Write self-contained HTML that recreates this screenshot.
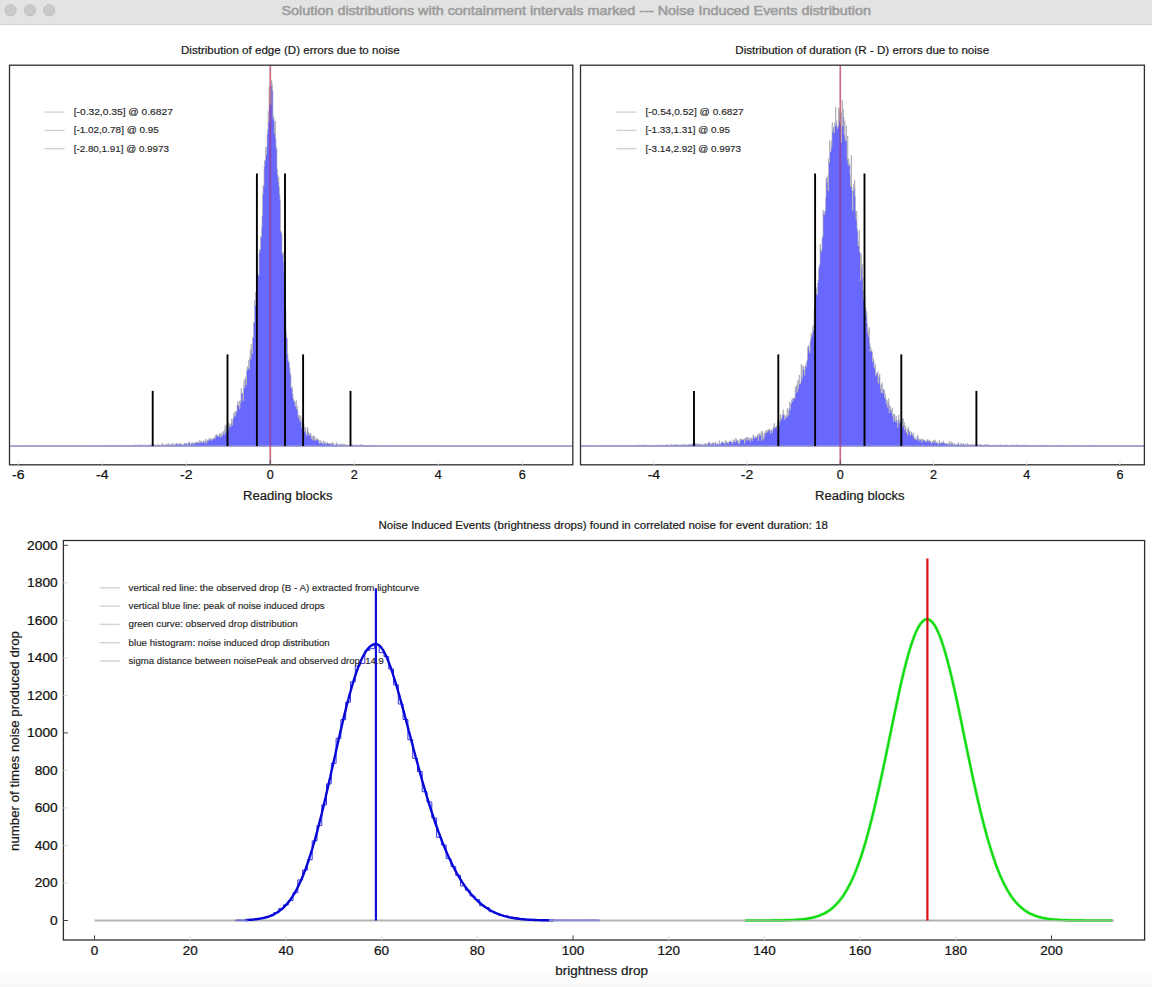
<!DOCTYPE html>
<html><head><meta charset="utf-8"><title>Solution distributions</title>
<style>
html,body{margin:0;padding:0;background:#fff;width:1152px;height:987px;overflow:hidden;}
svg text{font-family:"Liberation Sans", Arial, Helvetica, sans-serif;}
</style></head><body>
<svg width="1152" height="987" viewBox="0 0 1152 987" style="position:absolute;left:0;top:0">
<rect x="0" y="0" width="1152" height="987" fill="#ffffff"/>
<rect x="0" y="0" width="1152" height="24" fill="#e3e3e3"/>
<rect x="0" y="24" width="1152" height="1" fill="#d2d2d2"/>
<rect x="0" y="974" width="1152" height="13" fill="#fcfcfc"/>
<rect x="0" y="983" width="1152" height="4" fill="#f8f8f8"/>
<circle cx="10.6" cy="10.3" r="5.6" fill="#cacaca" stroke="#b9b9b9" stroke-width="0.8"/>
<circle cx="30" cy="10.3" r="5.6" fill="#cacaca" stroke="#b9b9b9" stroke-width="0.8"/>
<circle cx="49.2" cy="10.3" r="5.6" fill="#cacaca" stroke="#b9b9b9" stroke-width="0.8"/>
<text x="281.5" y="14.6" font-size="12.9" fill="#9c9c9c" stroke="#9c9c9c" stroke-width="0.55" textLength="589.5" lengthAdjust="spacingAndGlyphs">Solution distributions with containment intervals marked --- Noise Induced Events distribution</text>
<text x="181" y="54.3" font-size="11.6" fill="#1a1a1a" stroke="#1a1a1a" stroke-width="0.22" textLength="218.7" lengthAdjust="spacingAndGlyphs">Distribution of edge (D) errors due to noise</text>
<line x1="270.3" y1="65.2" x2="270.3" y2="464.8" stroke="#e0a0b0" stroke-width="1.2"/>
<path d="M10.5,446L10.5,446L11,446L11,445.9L11.5,445.9L11.5,445.9L12,445.9L12,446L12.5,446L12.5,446L13,446L13,446L13.5,446L13.5,445.9L14,445.9L14,446L14.5,446L14.5,445.9L15,445.9L15,446L15.5,446L15.5,445.9L16,445.9L16,446L16.5,446L16.5,445.9L17,445.9L17,446L17.5,446L17.5,446L18,446L18,445.9L18.5,445.9L18.5,445.9L19,445.9L19,446L19.5,446L19.5,446L20,446L20,445.9L20.5,445.9L20.5,446L21,446L21,446L21.5,446L21.5,446L22,446L22,446L22.5,446L22.5,446L23,446L23,446L23.5,446L23.5,446L24,446L24,446L24.5,446L24.5,446L25,446L25,446L25.5,446L25.5,445.9L26,445.9L26,446L26.5,446L26.5,446L27,446L27,445.9L27.5,445.9L27.5,445.9L28,445.9L28,446L28.5,446L28.5,445.9L29,445.9L29,445.9L29.5,445.9L29.5,446L30,446L30,446L30.5,446L30.5,445.9L31,445.9L31,446L31.5,446L31.5,445.9L32,445.9L32,446L32.5,446L32.5,446L33,446L33,446L33.5,446L33.5,446L34,446L34,446L34.5,446L34.5,445.9L35,445.9L35,446L35.5,446L35.5,445.8L36,445.8L36,445.9L36.5,445.9L36.5,445.9L37,445.9L37,445.9L37.5,445.9L37.5,445.9L38,445.9L38,446L38.5,446L38.5,445.9L39,445.9L39,445.9L39.5,445.9L39.5,446L40,446L40,445.9L40.5,445.9L40.5,446L41,446L41,445.9L41.5,445.9L41.5,446L42,446L42,446L42.5,446L42.5,445.9L43,445.9L43,446L43.5,446L43.5,445.9L44,445.9L44,446L44.5,446L44.5,445.9L45,445.9L45,446L45.5,446L45.5,445.8L46,445.8L46,445.9L46.5,445.9L46.5,446L47,446L47,445.9L47.5,445.9L47.5,445.8L48,445.8L48,445.8L48.5,445.8L48.5,446L49,446L49,445.9L49.5,445.9L49.5,445.9L50,445.9L50,446L50.5,446L50.5,446L51,446L51,445.8L51.5,445.8L51.5,446L52,446L52,445.9L52.5,445.9L52.5,445.8L53,445.8L53,446L53.5,446L53.5,446L54,446L54,446L54.5,446L54.5,445.9L55,445.9L55,445.8L55.5,445.8L55.5,445.7L56,445.7L56,446L56.5,446L56.5,446L57,446L57,445.9L57.5,445.9L57.5,445.7L58,445.7L58,445.9L58.5,445.9L58.5,446L59,446L59,445.9L59.5,445.9L59.5,445.9L60,445.9L60,446L60.5,446L60.5,446L61,446L61,445.9L61.5,445.9L61.5,445.9L62,445.9L62,446L62.5,446L62.5,446L63,446L63,446L63.5,446L63.5,446L64,446L64,445.8L64.5,445.8L64.5,446L65,446L65,446L65.5,446L65.5,445.7L66,445.7L66,445.9L66.5,445.9L66.5,445.6L67,445.6L67,445.9L67.5,445.9L67.5,446L68,446L68,446L68.5,446L68.5,445.7L69,445.7L69,445.5L69.5,445.5L69.5,446L70,446L70,446L70.5,446L70.5,445.8L71,445.8L71,446L71.5,446L71.5,446L72,446L72,446L72.5,446L72.5,445.9L73,445.9L73,445.7L73.5,445.7L73.5,445.9L74,445.9L74,445.8L74.5,445.8L74.5,446L75,446L75,445.9L75.5,445.9L75.5,446L76,446L76,446L76.5,446L76.5,445.8L77,445.8L77,446L77.5,446L77.5,445.8L78,445.8L78,445.8L78.5,445.8L78.5,445.7L79,445.7L79,445.8L79.5,445.8L79.5,445.7L80,445.7L80,445.9L80.5,445.9L80.5,446L81,446L81,446L81.5,446L81.5,446L82,446L82,446L82.5,446L82.5,446L83,446L83,445.9L83.5,445.9L83.5,445.8L84,445.8L84,446L84.5,446L84.5,446L85,446L85,445.9L85.5,445.9L85.5,445.8L86,445.8L86,445.7L86.5,445.7L86.5,445.8L87,445.8L87,446L87.5,446L87.5,446L88,446L88,445.5L88.5,445.5L88.5,445.7L89,445.7L89,445.5L89.5,445.5L89.5,445.5L90,445.5L90,446L90.5,446L90.5,445.8L91,445.8L91,445.8L91.5,445.8L91.5,445.8L92,445.8L92,445.8L92.5,445.8L92.5,445.8L93,445.8L93,445.8L93.5,445.8L93.5,446L94,446L94,445.9L94.5,445.9L94.5,446L95,446L95,445.8L95.5,445.8L95.5,445.9L96,445.9L96,445.7L96.5,445.7L96.5,445.7L97,445.7L97,445.8L97.5,445.8L97.5,445.8L98,445.8L98,445.8L98.5,445.8L98.5,445.9L99,445.9L99,445.9L99.5,445.9L99.5,445.9L100,445.9L100,445.7L100.5,445.7L100.5,445.8L101,445.8L101,445.7L101.5,445.7L101.5,446L102,446L102,445.6L102.5,445.6L102.5,446L103,446L103,446L103.5,446L103.5,445.9L104,445.9L104,445.9L104.5,445.9L104.5,445.7L105,445.7L105,445.9L105.5,445.9L105.5,446L106,446L106,446L106.5,446L106.5,445.5L107,445.5L107,445.8L107.5,445.8L107.5,446L108,446L108,445.8L108.5,445.8L108.5,446L109,446L109,445.3L109.5,445.3L109.5,446L110,446L110,445.6L110.5,445.6L110.5,445.6L111,445.6L111,446L111.5,446L111.5,445.7L112,445.7L112,445.5L112.5,445.5L112.5,445.6L113,445.6L113,445.7L113.5,445.7L113.5,445.5L114,445.5L114,445.7L114.5,445.7L114.5,445.6L115,445.6L115,445.8L115.5,445.8L115.5,445.6L116,445.6L116,446L116.5,446L116.5,445.5L117,445.5L117,445.9L117.5,445.9L117.5,446L118,446L118,445.6L118.5,445.6L118.5,445.2L119,445.2L119,445.4L119.5,445.4L119.5,445.9L120,445.9L120,445.5L120.5,445.5L120.5,445.8L121,445.8L121,445.7L121.5,445.7L121.5,445.7L122,445.7L122,446L122.5,446L122.5,445.6L123,445.6L123,446L123.5,446L123.5,445.9L124,445.9L124,446L124.5,446L124.5,446L125,446L125,446L125.5,446L125.5,445.4L126,445.4L126,445.1L126.5,445.1L126.5,445.7L127,445.7L127,445.3L127.5,445.3L127.5,445.7L128,445.7L128,446L128.5,446L128.5,445.6L129,445.6L129,445.5L129.5,445.5L129.5,445.8L130,445.8L130,445.5L130.5,445.5L130.5,445.4L131,445.4L131,445.9L131.5,445.9L131.5,446L132,446L132,445.7L132.5,445.7L132.5,445.7L133,445.7L133,445.7L133.5,445.7L133.5,445.2L134,445.2L134,444.9L134.5,444.9L134.5,445.7L135,445.7L135,445.3L135.5,445.3L135.5,445.2L136,445.2L136,445.3L136.5,445.3L136.5,445.1L137,445.1L137,445.7L137.5,445.7L137.5,445.2L138,445.2L138,444.7L138.5,444.7L138.5,445.2L139,445.2L139,445.7L139.5,445.7L139.5,445.2L140,445.2L140,445L140.5,445L140.5,445.3L141,445.3L141,445.7L141.5,445.7L141.5,444.8L142,444.8L142,446L142.5,446L142.5,445.2L143,445.2L143,445.4L143.5,445.4L143.5,445.9L144,445.9L144,444.9L144.5,444.9L144.5,445.3L145,445.3L145,445.9L145.5,445.9L145.5,445.1L146,445.1L146,445.6L146.5,445.6L146.5,446L147,446L147,445.7L147.5,445.7L147.5,445.2L148,445.2L148,445.1L148.5,445.1L148.5,445.3L149,445.3L149,445.3L149.5,445.3L149.5,445.1L150,445.1L150,445.4L150.5,445.4L150.5,444.8L151,444.8L151,445.2L151.5,445.2L151.5,445.1L152,445.1L152,445L152.5,445L152.5,445.8L153,445.8L153,445.6L153.5,445.6L153.5,444.5L154,444.5L154,445.1L154.5,445.1L154.5,445.4L155,445.4L155,445L155.5,445L155.5,445.4L156,445.4L156,445L156.5,445L156.5,445.5L157,445.5L157,445L157.5,445L157.5,445.9L158,445.9L158,444.4L158.5,444.4L158.5,445.4L159,445.4L159,445.9L159.5,445.9L159.5,445.2L160,445.2L160,445.3L160.5,445.3L160.5,445L161,445L161,445.7L161.5,445.7L161.5,444.8L162,444.8L162,443.1L162.5,443.1L162.5,445.7L163,445.7L163,444.8L163.5,444.8L163.5,445.2L164,445.2L164,444.9L164.5,444.9L164.5,446L165,446L165,445.6L165.5,445.6L165.5,444.7L166,444.7L166,444.9L166.5,444.9L166.5,443.9L167,443.9L167,445.3L167.5,445.3L167.5,444.8L168,444.8L168,443.1L168.5,443.1L168.5,445.3L169,445.3L169,445.4L169.5,445.4L169.5,444.8L170,444.8L170,444.8L170.5,444.8L170.5,444.2L171,444.2L171,444.7L171.5,444.7L171.5,445.2L172,445.2L172,444.6L172.5,444.6L172.5,443L173,443L173,443.8L173.5,443.8L173.5,446L174,446L174,444.7L174.5,444.7L174.5,445.2L175,445.2L175,444.2L175.5,444.2L175.5,444.7L176,444.7L176,443.2L176.5,443.2L176.5,443.9L177,443.9L177,443.9L177.5,443.9L177.5,444.3L178,444.3L178,444.5L178.5,444.5L178.5,444.2L179,444.2L179,443.5L179.5,443.5L179.5,444L180,444L180,444.6L180.5,444.6L180.5,443.4L181,443.4L181,444.1L181.5,444.1L181.5,444.3L182,444.3L182,444.8L182.5,444.8L182.5,444.6L183,444.6L183,444.6L183.5,444.6L183.5,446L184,446L184,443.3L184.5,443.3L184.5,443.6L185,443.6L185,444.2L185.5,444.2L185.5,443.1L186,443.1L186,443.6L186.5,443.6L186.5,443.6L187,443.6L187,445.8L187.5,445.8L187.5,444L188,444L188,443.3L188.5,443.3L188.5,442.4L189,442.4L189,442.1L189.5,442.1L189.5,442.4L190,442.4L190,444.6L190.5,444.6L190.5,445.4L191,445.4L191,443L191.5,443L191.5,443.4L192,443.4L192,442.5L192.5,442.5L192.5,443.4L193,443.4L193,443.1L193.5,443.1L193.5,444.6L194,444.6L194,442.7L194.5,442.7L194.5,443.5L195,443.5L195,442.7L195.5,442.7L195.5,442.5L196,442.5L196,443L196.5,443L196.5,442.5L197,442.5L197,442.7L197.5,442.7L197.5,441.9L198,441.9L198,442.1L198.5,442.1L198.5,443L199,443L199,443L199.5,443L199.5,440.5L200,440.5L200,442.3L200.5,442.3L200.5,441.1L201,441.1L201,441.6L201.5,441.6L201.5,442.6L202,442.6L202,442.7L202.5,442.7L202.5,441.6L203,441.6L203,441.3L203.5,441.3L203.5,440.8L204,440.8L204,442.9L204.5,442.9L204.5,442L205,442L205,441.3L205.5,441.3L205.5,439.1L206,439.1L206,443.8L206.5,443.8L206.5,440.2L207,440.2L207,441.3L207.5,441.3L207.5,439.9L208,439.9L208,441L208.5,441L208.5,439.7L209,439.7L209,437.9L209.5,437.9L209.5,439.4L210,439.4L210,439.1L210.5,439.1L210.5,439L211,439L211,440.4L211.5,440.4L211.5,438.4L212,438.4L212,439.3L212.5,439.3L212.5,440L213,440L213,438.6L213.5,438.6L213.5,438.7L214,438.7L214,436.9L214.5,436.9L214.5,437.9L215,437.9L215,438.4L215.5,438.4L215.5,435L216,435L216,435.4L216.5,435.4L216.5,434.6L217,434.6L217,435.4L217.5,435.4L217.5,436.3L218,436.3L218,436.6L218.5,436.6L218.5,436L219,436L219,433.4L219.5,433.4L219.5,434.6L220,434.6L220,437.2L220.5,437.2L220.5,434.1L221,434.1L221,436.4L221.5,436.4L221.5,432.9L222,432.9L222,435.2L222.5,435.2L222.5,434.9L223,434.9L223,431.7L223.5,431.7L223.5,431.6L224,431.6L224,434.5L224.5,434.5L224.5,428.8L225,428.8L225,425.2L225.5,425.2L225.5,432.7L226,432.7L226,424.7L226.5,424.7L226.5,429.9L227,429.9L227,428.9L227.5,428.9L227.5,427.6L228,427.6L228,430L228.5,430L228.5,422.7L229,422.7L229,424L229.5,424L229.5,426.4L230,426.4L230,424.5L230.5,424.5L230.5,427L231,427L231,423.1L231.5,423.1L231.5,418.8L232,418.8L232,425.2L232.5,425.2L232.5,420.8L233,420.8L233,418.1L233.5,418.1L233.5,414.3L234,414.3L234,412.2L234.5,412.2L234.5,416.4L235,416.4L235,416.1L235.5,416.1L235.5,411L236,411L236,412.3L236.5,412.3L236.5,410.9L237,410.9L237,405L237.5,405L237.5,401.5L238,401.5L238,405.1L238.5,405.1L238.5,405.4L239,405.4L239,401.3L239.5,401.3L239.5,408.8L240,408.8L240,400.5L240.5,400.5L240.5,402.9L241,402.9L241,388.2L241.5,388.2L241.5,392.9L242,392.9L242,393.4L242.5,393.4L242.5,393L243,393L243,400.8L243.5,400.8L243.5,385.6L244,385.6L244,379.7L244.5,379.7L244.5,387.7L245,387.7L245,379.5L245.5,379.5L245.5,377L246,377L246,384.9L246.5,384.9L246.5,371.1L247,371.1L247,366.5L247.5,366.5L247.5,369.1L248,369.1L248,367.7L248.5,367.7L248.5,360.6L249,360.6L249,369.3L249.5,369.3L249.5,358L250,358L250,350.1L250.5,350.1L250.5,359.2L251,359.2L251,344.2L251.5,344.2L251.5,348.4L252,348.4L252,353.9L252.5,353.9L252.5,338.1L253,338.1L253,336.9L253.5,336.9L253.5,321.8L254,321.8L254,323L254.5,323L254.5,300.8L255,300.8L255,305.5L255.5,305.5L255.5,292.5L256,292.5L256,293.8L256.5,293.8L256.5,287.2L257,287.2L257,272.1L257.5,272.1L257.5,274.5L258,274.5L258,274.4L258.5,274.4L258.5,275.9L259,275.9L259,252.7L259.5,252.7L259.5,249.5L260,249.5L260,250.1L260.5,250.1L260.5,236.6L261,236.6L261,237.2L261.5,237.2L261.5,227.5L262,227.5L262,215.7L262.5,215.7L262.5,194.8L263,194.8L263,185.3L263.5,185.3L263.5,186.5L264,186.5L264,166.5L264.5,166.5L264.5,160.3L265,160.3L265,160.7L265.5,160.7L265.5,147.5L266,147.5L266,154.6L266.5,154.6L266.5,146.9L267,146.9L267,134.1L267.5,134.1L267.5,129.8L268,129.8L268,111.1L268.5,111.1L268.5,121.5L269,121.5L269,86.1L269.5,86.1L269.5,102.9L270,102.9L270,92.1L270.5,92.1L270.5,104.7L271,104.7L271,85.5L271.5,85.5L271.5,80.6L272,80.6L272,85.2L272.5,85.2L272.5,90.6L273,90.6L273,118.6L273.5,118.6L273.5,116.6L274,116.6L274,120.8L274.5,120.8L274.5,133.6L275,133.6L275,121.7L275.5,121.7L275.5,138.5L276,138.5L276,147.3L276.5,147.3L276.5,149L277,149L277,168.9L277.5,168.9L277.5,175L278,175L278,181.6L278.5,181.6L278.5,176.8L279,176.8L279,186.9L279.5,186.9L279.5,194.8L280,194.8L280,200.8L280.5,200.8L280.5,230.6L281,230.6L281,232.2L281.5,232.2L281.5,233.8L282,233.8L282,252.9L282.5,252.9L282.5,254.5L283,254.5L283,252L283.5,252L283.5,261.9L284,261.9L284,273.3L284.5,273.3L284.5,291.9L285,291.9L285,304.9L285.5,304.9L285.5,309.8L286,309.8L286,331.5L286.5,331.5L286.5,337.3L287,337.3L287,338.9L287.5,338.9L287.5,353.7L288,353.7L288,359.8L288.5,359.8L288.5,361.5L289,361.5L289,362.9L289.5,362.9L289.5,367.7L290,367.7L290,373.2L290.5,373.2L290.5,375L291,375L291,388.1L291.5,388.1L291.5,388L292,388L292,386.6L292.5,386.6L292.5,394L293,394L293,398.3L293.5,398.3L293.5,400.2L294,400.2L294,401.4L294.5,401.4L294.5,400.9L295,400.9L295,406.2L295.5,406.2L295.5,403.7L296,403.7L296,400.7L296.5,400.7L296.5,408.9L297,408.9L297,406L297.5,406L297.5,410.9L298,410.9L298,416.9L298.5,416.9L298.5,415.6L299,415.6L299,419.1L299.5,419.1L299.5,415.2L300,415.2L300,422L300.5,422L300.5,416.2L301,416.2L301,419.4L301.5,419.4L301.5,427.5L302,427.5L302,421L302.5,421L302.5,420.1L303,420.1L303,427L303.5,427L303.5,423.5L304,423.5L304,431.1L304.5,431.1L304.5,427L305,427L305,432.2L305.5,432.2L305.5,428.1L306,428.1L306,433.9L306.5,433.9L306.5,436.3L307,436.3L307,430.6L307.5,430.6L307.5,427.4L308,427.4L308,434L308.5,434L308.5,431.9L309,431.9L309,433.9L309.5,433.9L309.5,435.4L310,435.4L310,434.2L310.5,434.2L310.5,433L311,433L311,438.5L311.5,438.5L311.5,436L312,436L312,436.9L312.5,436.9L312.5,440.1L313,440.1L313,435.8L313.5,435.8L313.5,435.7L314,435.7L314,440.4L314.5,440.4L314.5,436.8L315,436.8L315,439.5L315.5,439.5L315.5,440.1L316,440.1L316,438.1L316.5,438.1L316.5,440.1L317,440.1L317,440.2L317.5,440.2L317.5,438.9L318,438.9L318,439.4L318.5,439.4L318.5,440.1L319,440.1L319,443L319.5,443L319.5,443.3L320,443.3L320,440.4L320.5,440.4L320.5,442.9L321,442.9L321,441.8L321.5,441.8L321.5,443.3L322,443.3L322,442.4L322.5,442.4L322.5,443.7L323,443.7L323,440.8L323.5,440.8L323.5,443.6L324,443.6L324,442.8L324.5,442.8L324.5,443L325,443L325,441.8L325.5,441.8L325.5,444.4L326,444.4L326,443.1L326.5,443.1L326.5,443.4L327,443.4L327,442.8L327.5,442.8L327.5,442.9L328,442.9L328,443.9L328.5,443.9L328.5,443.3L329,443.3L329,443.9L329.5,443.9L329.5,443.3L330,443.3L330,443.8L330.5,443.8L330.5,444.3L331,444.3L331,443.9L331.5,443.9L331.5,443.6L332,443.6L332,442.2L332.5,442.2L332.5,444.4L333,444.4L333,443.9L333.5,443.9L333.5,443.1L334,443.1L334,445.7L334.5,445.7L334.5,445.5L335,445.5L335,445.2L335.5,445.2L335.5,444.4L336,444.4L336,442.7L336.5,442.7L336.5,444.2L337,444.2L337,443.7L337.5,443.7L337.5,444.7L338,444.7L338,446L338.5,446L338.5,446L339,446L339,444L339.5,444L339.5,444.6L340,444.6L340,445.5L340.5,445.5L340.5,444.1L341,444.1L341,445.7L341.5,445.7L341.5,444.1L342,444.1L342,444L342.5,444L342.5,445.3L343,445.3L343,445.5L343.5,445.5L343.5,444.5L344,444.5L344,445.6L344.5,445.6L344.5,444.5L345,444.5L345,445.7L345.5,445.7L345.5,444.6L346,444.6L346,445L346.5,445L346.5,445.3L347,445.3L347,445.6L347.5,445.6L347.5,445L348,445L348,446L348.5,446L348.5,445.3L349,445.3L349,445.4L349.5,445.4L349.5,444.9L350,444.9L350,445.8L350.5,445.8L350.5,444.4L351,444.4L351,445.4L351.5,445.4L351.5,445.8L352,445.8L352,444.7L352.5,444.7L352.5,444.6L353,444.6L353,445.4L353.5,445.4L353.5,445.7L354,445.7L354,445.4L354.5,445.4L354.5,445.7L355,445.7L355,445.5L355.5,445.5L355.5,444.8L356,444.8L356,445.3L356.5,445.3L356.5,445.4L357,445.4L357,445.3L357.5,445.3L357.5,445.5L358,445.5L358,445.1L358.5,445.1L358.5,445.1L359,445.1L359,445.6L359.5,445.6L359.5,445.5L360,445.5L360,444.6L360.5,444.6L360.5,445.4L361,445.4L361,445.6L361.5,445.6L361.5,444.8L362,444.8L362,445.6L362.5,445.6L362.5,446L363,446L363,445.3L363.5,445.3L363.5,445.9L364,445.9L364,445.8L364.5,445.8L364.5,445.5L365,445.5L365,445.7L365.5,445.7L365.5,445.9L366,445.9L366,445.8L366.5,445.8L366.5,445.8L367,445.8L367,445.3L367.5,445.3L367.5,445.9L368,445.9L368,445.9L368.5,445.9L368.5,445L369,445L369,445.9L369.5,445.9L369.5,445.2L370,445.2L370,445.3L370.5,445.3L370.5,445.7L371,445.7L371,446L371.5,446L371.5,445.6L372,445.6L372,445.5L372.5,445.5L372.5,445.4L373,445.4L373,445.7L373.5,445.7L373.5,445.4L374,445.4L374,445.4L374.5,445.4L374.5,446L375,446L375,445.4L375.5,445.4L375.5,445.7L376,445.7L376,445.9L376.5,445.9L376.5,445.9L377,445.9L377,445.3L377.5,445.3L377.5,445.5L378,445.5L378,446L378.5,446L378.5,445.8L379,445.8L379,445.8L379.5,445.8L379.5,445.8L380,445.8L380,445.9L380.5,445.9L380.5,446L381,446L381,445.6L381.5,445.6L381.5,446L382,446L382,445.9L382.5,445.9L382.5,446L383,446L383,446L383.5,446L383.5,445.7L384,445.7L384,445.7L384.5,445.7L384.5,446L385,446L385,446L385.5,446L385.5,445.9L386,445.9L386,445.6L386.5,445.6L386.5,445.8L387,445.8L387,445.8L387.5,445.8L387.5,445.9L388,445.9L388,445.9L388.5,445.9L388.5,445.8L389,445.8L389,446L389.5,446L389.5,445.5L390,445.5L390,446L390.5,446L390.5,446L391,446L391,445.6L391.5,445.6L391.5,445.8L392,445.8L392,445.9L392.5,445.9L392.5,446L393,446L393,446L393.5,446L393.5,445.9L394,445.9L394,445.7L394.5,445.7L394.5,446L395,446L395,445.7L395.5,445.7L395.5,446L396,446L396,446L396.5,446L396.5,445.8L397,445.8L397,445.9L397.5,445.9L397.5,445.8L398,445.8L398,446L398.5,446L398.5,446L399,446L399,446L399.5,446L399.5,446L400,446L400,446L400.5,446L400.5,446L401,446L401,445.9L401.5,445.9L401.5,446L402,446L402,446L402.5,446L402.5,445.6L403,445.6L403,446L403.5,446L403.5,446L404,446L404,445.8L404.5,445.8L404.5,445.8L405,445.8L405,446L405.5,446L405.5,446L406,446L406,446L406.5,446L406.5,445.8L407,445.8L407,446L407.5,446L407.5,446L408,446L408,445.9L408.5,445.9L408.5,445.8L409,445.8L409,446L409.5,446L409.5,446L410,446L410,446L410.5,446L410.5,445.7L411,445.7L411,445.7L411.5,445.7L411.5,445.8L412,445.8L412,446L412.5,446L412.5,445.9L413,445.9L413,446L413.5,446L413.5,445.9L414,445.9L414,446L414.5,446L414.5,446L415,446L415,446L415.5,446L415.5,446L416,446L416,445.9L416.5,445.9L416.5,445.9L417,445.9L417,445.9L417.5,445.9L417.5,446L418,446L418,445.9L418.5,445.9L418.5,446L419,446L419,445.8L419.5,445.8L419.5,446L420,446L420,446L420.5,446L420.5,446L421,446L421,445.8L421.5,445.8L421.5,445.9L422,445.9L422,446L422.5,446L422.5,445.9L423,445.9L423,445.9L423.5,445.9L423.5,445.9L424,445.9L424,446L424.5,446L424.5,446L425,446L425,446L425.5,446L425.5,446L426,446L426,446L426.5,446L426.5,446L427,446L427,445.9L427.5,445.9L427.5,445.9L428,445.9L428,445.9L428.5,445.9L428.5,445.9L429,445.9L429,445.8L429.5,445.8L429.5,446L430,446L430,445.9L430.5,445.9L430.5,445.8L431,445.8L431,446L431.5,446L431.5,446L432,446L432,445.9L432.5,445.9L432.5,445.8L433,445.8L433,446L433.5,446L433.5,446L434,446L434,446L434.5,446L434.5,446L435,446L435,445.9L435.5,445.9L435.5,446L436,446L436,446L436.5,446L436.5,446L437,446L437,446L437.5,446L437.5,446L438,446L438,446L438.5,446L438.5,446L439,446L439,445.9L439.5,445.9L439.5,446L440,446L440,446L440.5,446L440.5,445.9L441,445.9L441,445.9L441.5,445.9L441.5,445.9L442,445.9L442,446L442.5,446L442.5,446L443,446L443,446L443.5,446L443.5,445.9L444,445.9L444,446L444.5,446L444.5,446L445,446L445,446L445.5,446L445.5,446L446,446L446,446L446.5,446L446.5,445.9L447,445.9L447,446L447.5,446L447.5,446L448,446L448,446L448.5,446L448.5,446L449,446L449,446L449.5,446L449.5,446L450,446L450,445.9L450.5,445.9L450.5,446L451,446L451,446L451.5,446L451.5,446L452,446L452,446L452.5,446L452.5,446L453,446L453,446L453.5,446L453.5,446L454,446L454,445.9L454.5,445.9L454.5,446L455,446L455,446L455.5,446L455.5,445.9L456,445.9L456,446L456.5,446L456.5,446L457,446L457,446L457.5,446L457.5,446L458,446L458,445.9L458.5,445.9L458.5,445.9L459,445.9L459,446L459.5,446L459.5,445.9L460,445.9L460,445.9L460.5,445.9L460.5,446L461,446L461,446L461.5,446L461.5,445.9L462,445.9L462,446L462.5,446L462.5,446L463,446L463,446L463.5,446L463.5,446L464,446L464,446L464.5,446L464.5,446L465,446L465,446L465.5,446L465.5,446L466,446L466,446L466.5,446L466.5,445.9L467,445.9L467,446L467.5,446L467.5,446L468,446L468,446L468.5,446L468.5,446L469,446L469,446L469.5,446L469.5,446L470,446L470,446L470.5,446L470.5,446L471,446L471,446L471.5,446L471.5,446L472,446L472,446L472.5,446L472.5,446L473,446L473,446L473.5,446L473.5,446L474,446L474,446L474.5,446L474.5,446L475,446L475,446L475.5,446L475.5,446L476,446L476,446L476.5,446L476.5,446L477,446L477,446L477.5,446L477.5,446L478,446L478,446L478.5,446L478.5,446L479,446L479,446L479.5,446L479.5,446L480,446L480,446L480.5,446L480.5,446L481,446L481,446L481.5,446L481.5,446L482,446L482,446L482.5,446L482.5,446L483,446L483,446L483.5,446L483.5,446L484,446L484,446L484.5,446L484.5,446L485,446L485,446L485.5,446L485.5,446L486,446L486,446L486.5,446L486.5,446L487,446L487,446L487.5,446L487.5,446L488,446L488,446L488.5,446L488.5,446L489,446L489,446L489.5,446L489.5,446L490,446L490,446L490.5,446L490.5,446L491,446L491,446L491.5,446L491.5,446L492,446L492,446L492.5,446L492.5,446L493,446L493,446L493.5,446L493.5,446L494,446L494,446L494.5,446L494.5,446L495,446L495,446L495.5,446L495.5,446L496,446L496,446L496.5,446L496.5,446L497,446L497,446L497.5,446L497.5,446L498,446L498,446L498.5,446L498.5,446L499,446L499,446L499.5,446L499.5,446L500,446L500,446L500.5,446L500.5,446L501,446L501,446L501.5,446L501.5,446L502,446L502,446L502.5,446L502.5,446L503,446L503,446L503.5,446L503.5,446L504,446L504,446L504.5,446L504.5,446L505,446L505,446L505.5,446L505.5,446L506,446L506,446L506.5,446L506.5,446L507,446L507,446L507.5,446L507.5,446L508,446L508,446L508.5,446L508.5,446L509,446L509,446L509.5,446L509.5,446L510,446L510,446L510.5,446L510.5,446L511,446L511,446L511.5,446L511.5,446L512,446L512,446L512.5,446L512.5,446L513,446L513,446L513.5,446L513.5,446L514,446L514,446L514.5,446L514.5,446L515,446L515,446L515.5,446L515.5,446L516,446L516,446L516.5,446L516.5,446L517,446L517,446L517.5,446L517.5,446L518,446L518,446L518.5,446L518.5,446L519,446L519,446L519.5,446L519.5,446L520,446L520,446L520.5,446L520.5,446L521,446L521,446L521.5,446L521.5,446L522,446L522,446L522.5,446L522.5,446L523,446L523,446L523.5,446L523.5,446L524,446L524,446L524.5,446L524.5,446L525,446L525,446L525.5,446L525.5,446L526,446L526,446L526.5,446L526.5,446L527,446L527,446L527.5,446L527.5,446L528,446L528,446L528.5,446L528.5,446L529,446L529,446L529.5,446L529.5,446L530,446L530,446L530.5,446L530.5,446L531,446L531,446L531.5,446L531.5,446L532,446L532,446L532.5,446L532.5,446L533,446L533,446L533.5,446L533.5,446L534,446L534,446L534.5,446L534.5,446L535,446L535,446L535.5,446L535.5,446L536,446L536,446L536.5,446L536.5,446L537,446L537,446L537.5,446L537.5,446L538,446L538,446L538.5,446L538.5,446L539,446L539,446L539.5,446L539.5,446L540,446L540,446L540.5,446L540.5,446L541,446L541,446L541.5,446L541.5,446L542,446L542,446L542.5,446L542.5,446L543,446L543,446L543.5,446L543.5,446L544,446L544,446L544.5,446L544.5,446L545,446L545,446L545.5,446L545.5,446L546,446L546,446L546.5,446L546.5,446L547,446L547,446L547.5,446L547.5,446L548,446L548,446L548.5,446L548.5,446L549,446L549,446L549.5,446L549.5,446L550,446L550,446L550.5,446L550.5,446L551,446L551,446L551.5,446L551.5,446L552,446L552,446L552.5,446L552.5,446L553,446L553,446L553.5,446L553.5,446L554,446L554,446L554.5,446L554.5,446L555,446L555,446L555.5,446L555.5,446L556,446L556,446L556.5,446L556.5,446L557,446L557,446L557.5,446L557.5,446L558,446L558,446L558.5,446L558.5,446L559,446L559,446L559.5,446L559.5,446L560,446L560,446L560.5,446L560.5,446L561,446L561,446L561.5,446L561.5,446L562,446L562,446L562.5,446L562.5,446L563,446L563,446L563.5,446L563.5,446L564,446L564,446L564.5,446L564.5,446L565,446L565,446L565.5,446L565.5,446L566,446L566,446L566.5,446L566.5,446L567,446L567,446L567.5,446L567.5,446L568,446L568,446L568.5,446L568.5,446L569,446L569,446L569.5,446L569.5,446L570,446L570,446L570.5,446L570.5,446L571,446L571,446L571.5,446L571.5,446L572,446L572,446L572.5,446L572.5,446Z" fill="#6868ff" stroke="#b4b4b4" stroke-width="0.7"/>
<line x1="9.5" y1="446" x2="572.8" y2="446" stroke="#8c8cd2" stroke-width="1.25"/>
<line x1="270.3" y1="65.2" x2="270.3" y2="464.8" stroke="#b02040" stroke-width="1.8" stroke-opacity="0.45"/>
<line x1="256.9" y1="173.4" x2="256.9" y2="446" stroke="#000" stroke-width="1.9"/>
<line x1="285" y1="173.4" x2="285" y2="446" stroke="#000" stroke-width="1.9"/>
<line x1="227.5" y1="354.4" x2="227.5" y2="446" stroke="#000" stroke-width="1.9"/>
<line x1="303.1" y1="354.4" x2="303.1" y2="446" stroke="#000" stroke-width="1.9"/>
<line x1="152.7" y1="390.9" x2="152.7" y2="446" stroke="#000" stroke-width="1.9"/>
<line x1="350.5" y1="390.9" x2="350.5" y2="446" stroke="#000" stroke-width="1.9"/>
<line x1="44.7" y1="112.1" x2="64.7" y2="112.1" stroke="#d2d2d2" stroke-width="1.4"/>
<text x="73.7" y="115" font-size="9.6" fill="#262626" stroke="#262626" stroke-width="0.15" textLength="99.2" lengthAdjust="spacingAndGlyphs">[-0.32,0.35] @ 0.6827</text>
<line x1="44.7" y1="130.4" x2="64.7" y2="130.4" stroke="#d2d2d2" stroke-width="1.4"/>
<text x="73.7" y="133.3" font-size="9.6" fill="#262626" stroke="#262626" stroke-width="0.15" textLength="85.1" lengthAdjust="spacingAndGlyphs">[-1.02,0.78] @ 0.95</text>
<line x1="44.7" y1="148.7" x2="64.7" y2="148.7" stroke="#d2d2d2" stroke-width="1.4"/>
<text x="73.7" y="151.6" font-size="9.6" fill="#262626" stroke="#262626" stroke-width="0.15" textLength="95.3" lengthAdjust="spacingAndGlyphs">[-2.80,1.91] @ 0.9973</text>
<rect x="9.5" y="65.2" width="563.3" height="399.6" fill="none" stroke="#2e2e2e" stroke-width="1.3"/>
<line x1="18.3" y1="460.2" x2="18.3" y2="464.8" stroke="#e6e6e6" stroke-width="1"/>
<text x="18.3" y="478.8" font-size="12.2" fill="#111" stroke="#111" stroke-width="0.22" text-anchor="middle" textLength="12.5" lengthAdjust="spacingAndGlyphs">-6</text>
<line x1="102.3" y1="460.2" x2="102.3" y2="464.8" stroke="#e6e6e6" stroke-width="1"/>
<text x="102.3" y="478.8" font-size="12.2" fill="#111" stroke="#111" stroke-width="0.22" text-anchor="middle" textLength="12.5" lengthAdjust="spacingAndGlyphs">-4</text>
<line x1="186.3" y1="460.2" x2="186.3" y2="464.8" stroke="#e6e6e6" stroke-width="1"/>
<text x="186.3" y="478.8" font-size="12.2" fill="#111" stroke="#111" stroke-width="0.22" text-anchor="middle" textLength="12.5" lengthAdjust="spacingAndGlyphs">-2</text>
<line x1="270.3" y1="460.2" x2="270.3" y2="464.8" stroke="#555" stroke-width="1"/>
<text x="270.3" y="478.8" font-size="12.2" fill="#111" stroke="#111" stroke-width="0.22" text-anchor="middle" textLength="7" lengthAdjust="spacingAndGlyphs">0</text>
<line x1="354.3" y1="460.2" x2="354.3" y2="464.8" stroke="#e6e6e6" stroke-width="1"/>
<text x="354.3" y="478.8" font-size="12.2" fill="#111" stroke="#111" stroke-width="0.22" text-anchor="middle" textLength="7" lengthAdjust="spacingAndGlyphs">2</text>
<line x1="438.3" y1="460.2" x2="438.3" y2="464.8" stroke="#e6e6e6" stroke-width="1"/>
<text x="438.3" y="478.8" font-size="12.2" fill="#111" stroke="#111" stroke-width="0.22" text-anchor="middle" textLength="7" lengthAdjust="spacingAndGlyphs">4</text>
<line x1="522.3" y1="460.2" x2="522.3" y2="464.8" stroke="#e6e6e6" stroke-width="1"/>
<text x="522.3" y="478.8" font-size="12.2" fill="#111" stroke="#111" stroke-width="0.22" text-anchor="middle" textLength="7" lengthAdjust="spacingAndGlyphs">6</text>
<text x="243" y="500" font-size="12" fill="#1a1a1a" stroke="#1a1a1a" stroke-width="0.22" textLength="89.5" lengthAdjust="spacingAndGlyphs">Reading blocks</text>
<text x="735.3" y="54.3" font-size="11.6" fill="#1a1a1a" stroke="#1a1a1a" stroke-width="0.22" textLength="253.8" lengthAdjust="spacingAndGlyphs">Distribution of duration (R - D) errors due to noise</text>
<line x1="840.3" y1="65.2" x2="840.3" y2="464.8" stroke="#e0a0b0" stroke-width="1.2"/>
<path d="M581.5,446L581.5,445.8L582,445.8L582,445.6L582.5,445.6L582.5,445.7L583,445.7L583,445.7L583.5,445.7L583.5,445.4L584,445.4L584,446L584.5,446L584.5,446L585,446L585,446L585.5,446L585.5,445.9L586,445.9L586,445.6L586.5,445.6L586.5,445.8L587,445.8L587,445.7L587.5,445.7L587.5,446L588,446L588,445.8L588.5,445.8L588.5,446L589,446L589,445.4L589.5,445.4L589.5,445.6L590,445.6L590,445.6L590.5,445.6L590.5,445.8L591,445.8L591,445.7L591.5,445.7L591.5,445.6L592,445.6L592,445.9L592.5,445.9L592.5,445.9L593,445.9L593,445.8L593.5,445.8L593.5,446L594,446L594,446L594.5,446L594.5,445.9L595,445.9L595,446L595.5,446L595.5,445.6L596,445.6L596,446L596.5,446L596.5,445.6L597,445.6L597,446L597.5,446L597.5,445.9L598,445.9L598,446L598.5,446L598.5,445.8L599,445.8L599,445.9L599.5,445.9L599.5,445.7L600,445.7L600,445.9L600.5,445.9L600.5,445.8L601,445.8L601,445.3L601.5,445.3L601.5,445.7L602,445.7L602,445.9L602.5,445.9L602.5,445.5L603,445.5L603,445.8L603.5,445.8L603.5,445.6L604,445.6L604,445.6L604.5,445.6L604.5,445.9L605,445.9L605,446L605.5,446L605.5,445.9L606,445.9L606,445.6L606.5,445.6L606.5,445.9L607,445.9L607,445.6L607.5,445.6L607.5,445.5L608,445.5L608,445.9L608.5,445.9L608.5,445.4L609,445.4L609,445.3L609.5,445.3L609.5,445.4L610,445.4L610,445.4L610.5,445.4L610.5,445.4L611,445.4L611,445.1L611.5,445.1L611.5,445.7L612,445.7L612,445.7L612.5,445.7L612.5,445.6L613,445.6L613,446L613.5,446L613.5,446L614,446L614,446L614.5,446L614.5,445.6L615,445.6L615,445.6L615.5,445.6L615.5,446L616,446L616,446L616.5,446L616.5,445.8L617,445.8L617,445.8L617.5,445.8L617.5,445.7L618,445.7L618,445.5L618.5,445.5L618.5,445.3L619,445.3L619,445.6L619.5,445.6L619.5,445.5L620,445.5L620,446L620.5,446L620.5,446L621,446L621,445.6L621.5,445.6L621.5,445.5L622,445.5L622,445.5L622.5,445.5L622.5,445.5L623,445.5L623,445.4L623.5,445.4L623.5,445.4L624,445.4L624,446L624.5,446L624.5,445.9L625,445.9L625,445.5L625.5,445.5L625.5,445.5L626,445.5L626,446L626.5,446L626.5,445.3L627,445.3L627,445.8L627.5,445.8L627.5,445.8L628,445.8L628,445.6L628.5,445.6L628.5,445.4L629,445.4L629,446L629.5,446L629.5,445.3L630,445.3L630,445.6L630.5,445.6L630.5,445.9L631,445.9L631,445.8L631.5,445.8L631.5,446L632,446L632,445.9L632.5,445.9L632.5,445.6L633,445.6L633,445.9L633.5,445.9L633.5,445.8L634,445.8L634,445.7L634.5,445.7L634.5,445.6L635,445.6L635,445.3L635.5,445.3L635.5,445.6L636,445.6L636,445.7L636.5,445.7L636.5,445.4L637,445.4L637,444.9L637.5,444.9L637.5,445.7L638,445.7L638,445.4L638.5,445.4L638.5,446L639,446L639,445.1L639.5,445.1L639.5,445.4L640,445.4L640,445.1L640.5,445.1L640.5,445.6L641,445.6L641,446L641.5,446L641.5,445.3L642,445.3L642,445.3L642.5,445.3L642.5,445.9L643,445.9L643,446L643.5,446L643.5,445.4L644,445.4L644,445.6L644.5,445.6L644.5,444.5L645,444.5L645,445.8L645.5,445.8L645.5,445.8L646,445.8L646,445.6L646.5,445.6L646.5,446L647,446L647,445.9L647.5,445.9L647.5,444.9L648,444.9L648,445.6L648.5,445.6L648.5,445.8L649,445.8L649,446L649.5,446L649.5,445.3L650,445.3L650,445.3L650.5,445.3L650.5,445.4L651,445.4L651,445.7L651.5,445.7L651.5,445.4L652,445.4L652,445.3L652.5,445.3L652.5,445.8L653,445.8L653,445.2L653.5,445.2L653.5,446L654,446L654,446L654.5,446L654.5,445.6L655,445.6L655,445.5L655.5,445.5L655.5,446L656,446L656,445.3L656.5,445.3L656.5,445L657,445L657,445.3L657.5,445.3L657.5,445.4L658,445.4L658,445.1L658.5,445.1L658.5,445.3L659,445.3L659,446L659.5,446L659.5,445.5L660,445.5L660,444.8L660.5,444.8L660.5,445.9L661,445.9L661,445.4L661.5,445.4L661.5,445.6L662,445.6L662,445.8L662.5,445.8L662.5,445.9L663,445.9L663,445.3L663.5,445.3L663.5,445.2L664,445.2L664,445.2L664.5,445.2L664.5,446L665,446L665,445.5L665.5,445.5L665.5,445.2L666,445.2L666,444.9L666.5,444.9L666.5,445L667,445L667,444.9L667.5,444.9L667.5,444.8L668,444.8L668,444.9L668.5,444.9L668.5,445.7L669,445.7L669,445.3L669.5,445.3L669.5,445.7L670,445.7L670,446L670.5,446L670.5,446L671,446L671,444.2L671.5,444.2L671.5,445.8L672,445.8L672,446L672.5,446L672.5,445.6L673,445.6L673,444.5L673.5,444.5L673.5,445.3L674,445.3L674,445L674.5,445L674.5,445.4L675,445.4L675,445.3L675.5,445.3L675.5,444.5L676,444.5L676,444.8L676.5,444.8L676.5,445.2L677,445.2L677,444.7L677.5,444.7L677.5,444.6L678,444.6L678,445.3L678.5,445.3L678.5,445L679,445L679,445L679.5,445L679.5,445.5L680,445.5L680,444.5L680.5,444.5L680.5,445.2L681,445.2L681,445.5L681.5,445.5L681.5,446L682,446L682,445.8L682.5,445.8L682.5,444.2L683,444.2L683,445.7L683.5,445.7L683.5,444.8L684,444.8L684,445.2L684.5,445.2L684.5,444.7L685,444.7L685,444.6L685.5,444.6L685.5,445.5L686,445.5L686,445.2L686.5,445.2L686.5,444.9L687,444.9L687,444.9L687.5,444.9L687.5,445L688,445L688,445.1L688.5,445.1L688.5,444.5L689,444.5L689,444.1L689.5,444.1L689.5,444.5L690,444.5L690,445.3L690.5,445.3L690.5,444.6L691,444.6L691,444.8L691.5,444.8L691.5,444.5L692,444.5L692,443.6L692.5,443.6L692.5,444.9L693,444.9L693,444.8L693.5,444.8L693.5,445.3L694,445.3L694,444.9L694.5,444.9L694.5,445.1L695,445.1L695,443.6L695.5,443.6L695.5,444.5L696,444.5L696,445.1L696.5,445.1L696.5,443.3L697,443.3L697,445.6L697.5,445.6L697.5,444L698,444L698,443.9L698.5,443.9L698.5,444.2L699,444.2L699,444.7L699.5,444.7L699.5,444.6L700,444.6L700,444.8L700.5,444.8L700.5,443.9L701,443.9L701,446L701.5,446L701.5,444.8L702,444.8L702,444.3L702.5,444.3L702.5,444.8L703,444.8L703,445.8L703.5,445.8L703.5,444.5L704,444.5L704,444.9L704.5,444.9L704.5,443.7L705,443.7L705,443.2L705.5,443.2L705.5,444.2L706,444.2L706,445.8L706.5,445.8L706.5,444.4L707,444.4L707,444.9L707.5,444.9L707.5,443.6L708,443.6L708,442.7L708.5,442.7L708.5,443.8L709,443.8L709,442.4L709.5,442.4L709.5,442.8L710,442.8L710,443.4L710.5,443.4L710.5,444.7L711,444.7L711,443.8L711.5,443.8L711.5,445.1L712,445.1L712,442.9L712.5,442.9L712.5,443.6L713,443.6L713,442.5L713.5,442.5L713.5,443.4L714,443.4L714,445.4L714.5,445.4L714.5,443L715,443L715,442.7L715.5,442.7L715.5,442L716,442L716,444.4L716.5,444.4L716.5,444.3L717,444.3L717,443.3L717.5,443.3L717.5,444.3L718,444.3L718,444.6L718.5,444.6L718.5,444.3L719,444.3L719,440.7L719.5,440.7L719.5,443.8L720,443.8L720,444.2L720.5,444.2L720.5,443.6L721,443.6L721,443.1L721.5,443.1L721.5,441.7L722,441.7L722,442L722.5,442L722.5,442.1L723,442.1L723,442.8L723.5,442.8L723.5,442.7L724,442.7L724,443.4L724.5,443.4L724.5,444.3L725,444.3L725,440.5L725.5,440.5L725.5,443.1L726,443.1L726,441.4L726.5,441.4L726.5,442.8L727,442.8L727,442.5L727.5,442.5L727.5,442.5L728,442.5L728,443.9L728.5,443.9L728.5,442.3L729,442.3L729,441.7L729.5,441.7L729.5,441.2L730,441.2L730,441.5L730.5,441.5L730.5,440.8L731,440.8L731,441.6L731.5,441.6L731.5,441.9L732,441.9L732,444.2L732.5,444.2L732.5,442.4L733,442.4L733,439.7L733.5,439.7L733.5,441.4L734,441.4L734,440.5L734.5,440.5L734.5,441.7L735,441.7L735,442.2L735.5,442.2L735.5,438.6L736,438.6L736,440.7L736.5,440.7L736.5,439.1L737,439.1L737,440.3L737.5,440.3L737.5,441.3L738,441.3L738,443.8L738.5,443.8L738.5,440.6L739,440.6L739,442.8L739.5,442.8L739.5,443.6L740,443.6L740,438.7L740.5,438.7L740.5,439.3L741,439.3L741,439.3L741.5,439.3L741.5,440.1L742,440.1L742,440.1L742.5,440.1L742.5,439.3L743,439.3L743,439.6L743.5,439.6L743.5,439.6L744,439.6L744,438.5L744.5,438.5L744.5,443.3L745,443.3L745,438.1L745.5,438.1L745.5,440.3L746,440.3L746,437.9L746.5,437.9L746.5,437.3L747,437.3L747,440.3L747.5,440.3L747.5,437.6L748,437.6L748,437.5L748.5,437.5L748.5,439.8L749,439.8L749,439.4L749.5,439.4L749.5,438.3L750,438.3L750,442L750.5,442L750.5,439L751,439L751,437.8L751.5,437.8L751.5,438.7L752,438.7L752,440.6L752.5,440.6L752.5,438.4L753,438.4L753,434.9L753.5,434.9L753.5,435.1L754,435.1L754,437.5L754.5,437.5L754.5,438.6L755,438.6L755,437L755.5,437L755.5,436.8L756,436.8L756,437.9L756.5,437.9L756.5,437.2L757,437.2L757,435.2L757.5,435.2L757.5,434.5L758,434.5L758,440.7L758.5,440.7L758.5,434L759,434L759,435.4L759.5,435.4L759.5,433.3L760,433.3L760,435.4L760.5,435.4L760.5,434.3L761,434.3L761,431.7L761.5,431.7L761.5,440.7L762,440.7L762,431.3L762.5,431.3L762.5,434L763,434L763,437.9L763.5,437.9L763.5,439.5L764,439.5L764,433L764.5,433L764.5,435.7L765,435.7L765,431.1L765.5,431.1L765.5,432.5L766,432.5L766,433L766.5,433L766.5,430.3L767,430.3L767,431.8L767.5,431.8L767.5,430.3L768,430.3L768,429.8L768.5,429.8L768.5,430.6L769,430.6L769,429.2L769.5,429.2L769.5,428.9L770,428.9L770,433.7L770.5,433.7L770.5,430.8L771,430.8L771,430L771.5,430L771.5,430.3L772,430.3L772,432.9L772.5,432.9L772.5,430L773,430L773,427.3L773.5,427.3L773.5,427.2L774,427.2L774,423.2L774.5,423.2L774.5,428.3L775,428.3L775,427.3L775.5,427.3L775.5,427.2L776,427.2L776,425.9L776.5,425.9L776.5,426.2L777,426.2L777,429.2L777.5,429.2L777.5,422.4L778,422.4L778,419.9L778.5,419.9L778.5,418.9L779,418.9L779,424.8L779.5,424.8L779.5,421.6L780,421.6L780,414.8L780.5,414.8L780.5,420.2L781,420.2L781,418.2L781.5,418.2L781.5,419.2L782,419.2L782,415L782.5,415L782.5,414.6L783,414.6L783,409.7L783.5,409.7L783.5,415.1L784,415.1L784,414.7L784.5,414.7L784.5,419.7L785,419.7L785,416.5L785.5,416.5L785.5,417L786,417L786,415.1L786.5,415.1L786.5,417.9L787,417.9L787,408.5L787.5,408.5L787.5,415.7L788,415.7L788,410.2L788.5,410.2L788.5,414.8L789,414.8L789,408L789.5,408L789.5,401.9L790,401.9L790,409.7L790.5,409.7L790.5,403.6L791,403.6L791,403.6L791.5,403.6L791.5,400.5L792,400.5L792,398.4L792.5,398.4L792.5,401.3L793,401.3L793,398L793.5,398L793.5,398.4L794,398.4L794,398L794.5,398L794.5,398.4L795,398.4L795,387.5L795.5,387.5L795.5,393.7L796,393.7L796,386.1L796.5,386.1L796.5,385.4L797,385.4L797,391.4L797.5,391.4L797.5,380.7L798,380.7L798,388.5L798.5,388.5L798.5,380.3L799,380.3L799,375.1L799.5,375.1L799.5,384.2L800,384.2L800,383.8L800.5,383.8L800.5,382.3L801,382.3L801,364.2L801.5,364.2L801.5,375.8L802,375.8L802,378.6L802.5,378.6L802.5,365.9L803,365.9L803,369.3L803.5,369.3L803.5,366.8L804,366.8L804,370.3L804.5,370.3L804.5,375.3L805,375.3L805,365.3L805.5,365.3L805.5,365.3L806,365.3L806,366.8L806.5,366.8L806.5,362L807,362L807,359.4L807.5,359.4L807.5,347.4L808,347.4L808,346.1L808.5,346.1L808.5,345.4L809,345.4L809,350.1L809.5,350.1L809.5,352.9L810,352.9L810,341.8L810.5,341.8L810.5,338.8L811,338.8L811,333.1L811.5,333.1L811.5,336.5L812,336.5L812,333.6L812.5,333.6L812.5,326.7L813,326.7L813,330.3L813.5,330.3L813.5,324.8L814,324.8L814,309.9L814.5,309.9L814.5,318L815,318L815,304.8L815.5,304.8L815.5,293.9L816,293.9L816,293.5L816.5,293.5L816.5,287.7L817,287.7L817,295L817.5,295L817.5,283.2L818,283.2L818,280L818.5,280L818.5,268.7L819,268.7L819,265.7L819.5,265.7L819.5,264.2L820,264.2L820,244.1L820.5,244.1L820.5,250.1L821,250.1L821,251.8L821.5,251.8L821.5,249L822,249L822,238.1L822.5,238.1L822.5,236.5L823,236.5L823,210.4L823.5,210.4L823.5,213.3L824,213.3L824,214.9L824.5,214.9L824.5,212.1L825,212.1L825,210.4L825.5,210.4L825.5,197.9L826,197.9L826,178.1L826.5,178.1L826.5,178.1L827,178.1L827,182.3L827.5,182.3L827.5,175.8L828,175.8L828,190.6L828.5,190.6L828.5,158.7L829,158.7L829,162.5L829.5,162.5L829.5,140.6L830,140.6L830,151.9L830.5,151.9L830.5,151.5L831,151.5L831,140.8L831.5,140.8L831.5,146.5L832,146.5L832,122.8L832.5,122.8L832.5,131.3L833,131.3L833,128.3L833.5,128.3L833.5,126.9L834,126.9L834,133L834.5,133L834.5,123L835,123L835,125.3L835.5,125.3L835.5,107.4L836,107.4L836,124.6L836.5,124.6L836.5,120.4L837,120.4L837,128.6L837.5,128.6L837.5,127L838,127L838,125.7L838.5,125.7L838.5,108L839,108L839,120.6L839.5,120.6L839.5,110.8L840,110.8L840,124L840.5,124L840.5,125.1L841,125.1L841,142.3L841.5,142.3L841.5,113.1L842,113.1L842,100.6L842.5,100.6L842.5,126.2L843,126.2L843,109.4L843.5,109.4L843.5,116.9L844,116.9L844,134.7L844.5,134.7L844.5,120.7L845,120.7L845,140.5L845.5,140.5L845.5,137.5L846,137.5L846,125.7L846.5,125.7L846.5,141.3L847,141.3L847,159.2L847.5,159.2L847.5,136.1L848,136.1L848,165.2L848.5,165.2L848.5,158.8L849,158.8L849,163.7L849.5,163.7L849.5,164.9L850,164.9L850,175L850.5,175L850.5,186.2L851,186.2L851,155.3L851.5,155.3L851.5,187L852,187L852,190.8L852.5,190.8L852.5,210.5L853,210.5L853,191L853.5,191L853.5,184.5L854,184.5L854,188.3L854.5,188.3L854.5,180.4L855,180.4L855,196.8L855.5,196.8L855.5,211.4L856,211.4L856,219.4L856.5,219.4L856.5,211.3L857,211.3L857,228.9L857.5,228.9L857.5,231.4L858,231.4L858,245.9L858.5,245.9L858.5,241.4L859,241.4L859,230.1L859.5,230.1L859.5,252L860,252L860,252.8L860.5,252.8L860.5,280.4L861,280.4L861,254.7L861.5,254.7L861.5,267.3L862,267.3L862,264L862.5,264L862.5,277.9L863,277.9L863,290.9L863.5,290.9L863.5,299.2L864,299.2L864,289.9L864.5,289.9L864.5,298.3L865,298.3L865,309.6L865.5,309.6L865.5,307.6L866,307.6L866,316.1L866.5,316.1L866.5,311.4L867,311.4L867,323.5L867.5,323.5L867.5,333.1L868,333.1L868,329.8L868.5,329.8L868.5,336.7L869,336.7L869,327.6L869.5,327.6L869.5,343.1L870,343.1L870,351.5L870.5,351.5L870.5,346.9L871,346.9L871,350.8L871.5,350.8L871.5,350.1L872,350.1L872,352.6L872.5,352.6L872.5,361.7L873,361.7L873,358L873.5,358L873.5,360.2L874,360.2L874,368.1L874.5,368.1L874.5,366.4L875,366.4L875,364L875.5,364L875.5,375.4L876,375.4L876,374.4L876.5,374.4L876.5,372.9L877,372.9L877,372.9L877.5,372.9L877.5,371.7L878,371.7L878,383.1L878.5,383.1L878.5,376.6L879,376.6L879,376.8L879.5,376.8L879.5,374L880,374L880,385L880.5,385L880.5,388.8L881,388.8L881,393L881.5,393L881.5,384.6L882,384.6L882,382.7L882.5,382.7L882.5,393L883,393L883,389.4L883.5,389.4L883.5,389L884,389L884,390.1L884.5,390.1L884.5,397.4L885,397.4L885,394.3L885.5,394.3L885.5,398.6L886,398.6L886,403.6L886.5,403.6L886.5,399.9L887,399.9L887,400.9L887.5,400.9L887.5,407.3L888,407.3L888,403.1L888.5,403.1L888.5,398.5L889,398.5L889,412.8L889.5,412.8L889.5,405.7L890,405.7L890,406L890.5,406L890.5,410L891,410L891,409.9L891.5,409.9L891.5,412.8L892,412.8L892,407.9L892.5,407.9L892.5,416.5L893,416.5L893,414.5L893.5,414.5L893.5,421.2L894,421.2L894,414.2L894.5,414.2L894.5,414.7L895,414.7L895,422L895.5,422L895.5,419.9L896,419.9L896,416.2L896.5,416.2L896.5,419.9L897,419.9L897,422.7L897.5,422.7L897.5,427.3L898,427.3L898,419.1L898.5,419.1L898.5,415L899,415L899,422.8L899.5,422.8L899.5,420.8L900,420.8L900,421.4L900.5,421.4L900.5,423.5L901,423.5L901,423.6L901.5,423.6L901.5,424.1L902,424.1L902,427.4L902.5,427.4L902.5,418.8L903,418.8L903,418.8L903.5,418.8L903.5,425.8L904,425.8L904,422.5L904.5,422.5L904.5,429.8L905,429.8L905,428.8L905.5,428.8L905.5,425.9L906,425.9L906,432.1L906.5,432.1L906.5,432.9L907,432.9L907,429.3L907.5,429.3L907.5,435.3L908,435.3L908,427.1L908.5,427.1L908.5,429.8L909,429.8L909,431.4L909.5,431.4L909.5,430.9L910,430.9L910,434.8L910.5,434.8L910.5,435.3L911,435.3L911,432L911.5,432L911.5,432.2L912,432.2L912,434.2L912.5,434.2L912.5,435L913,435L913,436.4L913.5,436.4L913.5,433L914,433L914,438.8L914.5,438.8L914.5,438L915,438L915,437.7L915.5,437.7L915.5,439.8L916,439.8L916,439.7L916.5,439.7L916.5,439.4L917,439.4L917,436.2L917.5,436.2L917.5,435.1L918,435.1L918,437.8L918.5,437.8L918.5,441.3L919,441.3L919,439.8L919.5,439.8L919.5,439.3L920,439.3L920,439.7L920.5,439.7L920.5,440L921,440L921,438.8L921.5,438.8L921.5,442.7L922,442.7L922,440.8L922.5,440.8L922.5,439.8L923,439.8L923,439.2L923.5,439.2L923.5,439.9L924,439.9L924,440.4L924.5,440.4L924.5,440.7L925,440.7L925,441.6L925.5,441.6L925.5,440.7L926,440.7L926,441.2L926.5,441.2L926.5,441.9L927,441.9L927,439.5L927.5,439.5L927.5,439.6L928,439.6L928,441.7L928.5,441.7L928.5,440.5L929,440.5L929,439.9L929.5,439.9L929.5,441.2L930,441.2L930,441.4L930.5,441.4L930.5,441L931,441L931,443.8L931.5,443.8L931.5,443.6L932,443.6L932,441.3L932.5,441.3L932.5,441.6L933,441.6L933,440.4L933.5,440.4L933.5,442.7L934,442.7L934,440.9L934.5,440.9L934.5,441L935,441L935,440L935.5,440L935.5,443.2L936,443.2L936,442.8L936.5,442.8L936.5,442.1L937,442.1L937,442.2L937.5,442.2L937.5,443.7L938,443.7L938,443.2L938.5,443.2L938.5,444.1L939,444.1L939,440.2L939.5,440.2L939.5,442.8L940,442.8L940,442.8L940.5,442.8L940.5,443.5L941,443.5L941,442.9L941.5,442.9L941.5,442.1L942,442.1L942,443.3L942.5,443.3L942.5,443.1L943,443.1L943,440.9L943.5,440.9L943.5,442.2L944,442.2L944,442.9L944.5,442.9L944.5,443.6L945,443.6L945,443.3L945.5,443.3L945.5,444L946,444L946,443.1L946.5,443.1L946.5,444L947,444L947,444.1L947.5,444.1L947.5,443.8L948,443.8L948,444.5L948.5,444.5L948.5,443.3L949,443.3L949,441.2L949.5,441.2L949.5,444.2L950,444.2L950,445.2L950.5,445.2L950.5,442.8L951,442.8L951,443.8L951.5,443.8L951.5,442L952,442L952,443.5L952.5,443.5L952.5,443L953,443L953,444.6L953.5,444.6L953.5,445.3L954,445.3L954,444.1L954.5,444.1L954.5,443.4L955,443.4L955,444.7L955.5,444.7L955.5,445.4L956,445.4L956,444.6L956.5,444.6L956.5,444.5L957,444.5L957,444.4L957.5,444.4L957.5,444.2L958,444.2L958,442.3L958.5,442.3L958.5,444.2L959,444.2L959,444.7L959.5,444.7L959.5,445.2L960,445.2L960,443.7L960.5,443.7L960.5,445.6L961,445.6L961,443.3L961.5,443.3L961.5,444.4L962,444.4L962,445.6L962.5,445.6L962.5,444.3L963,444.3L963,444.6L963.5,444.6L963.5,443.6L964,443.6L964,445.7L964.5,445.7L964.5,444.4L965,444.4L965,444.6L965.5,444.6L965.5,444L966,444L966,445.5L966.5,445.5L966.5,445.2L967,445.2L967,443.3L967.5,443.3L967.5,444.3L968,444.3L968,445.8L968.5,445.8L968.5,444.5L969,444.5L969,445.3L969.5,445.3L969.5,445.3L970,445.3L970,445.6L970.5,445.6L970.5,444.2L971,444.2L971,445.2L971.5,445.2L971.5,444.7L972,444.7L972,444.8L972.5,444.8L972.5,445.9L973,445.9L973,445.4L973.5,445.4L973.5,444.5L974,444.5L974,445.9L974.5,445.9L974.5,444.8L975,444.8L975,445.1L975.5,445.1L975.5,444.6L976,444.6L976,444.6L976.5,444.6L976.5,444.5L977,444.5L977,445L977.5,445L977.5,444.9L978,444.9L978,445.5L978.5,445.5L978.5,445.4L979,445.4L979,444.6L979.5,444.6L979.5,445.5L980,445.5L980,444.6L980.5,444.6L980.5,444.6L981,444.6L981,445.6L981.5,445.6L981.5,444.9L982,444.9L982,445.6L982.5,445.6L982.5,445L983,445L983,445.6L983.5,445.6L983.5,445L984,445L984,445.1L984.5,445.1L984.5,445.8L985,445.8L985,444.2L985.5,444.2L985.5,444.7L986,444.7L986,446L986.5,446L986.5,445.1L987,445.1L987,445.5L987.5,445.5L987.5,444.2L988,444.2L988,445.3L988.5,445.3L988.5,445.1L989,445.1L989,445.4L989.5,445.4L989.5,445L990,445L990,445.6L990.5,445.6L990.5,445.8L991,445.8L991,445.6L991.5,445.6L991.5,445.6L992,445.6L992,445L992.5,445L992.5,445.3L993,445.3L993,445.6L993.5,445.6L993.5,445.6L994,445.6L994,445.8L994.5,445.8L994.5,445.3L995,445.3L995,446L995.5,446L995.5,445.5L996,445.5L996,444.8L996.5,444.8L996.5,445.6L997,445.6L997,445.7L997.5,445.7L997.5,445.4L998,445.4L998,445.9L998.5,445.9L998.5,445.8L999,445.8L999,445.1L999.5,445.1L999.5,445.7L1000,445.7L1000,444.6L1000.5,444.6L1000.5,445.2L1001,445.2L1001,445.5L1001.5,445.5L1001.5,445.7L1002,445.7L1002,445.6L1002.5,445.6L1002.5,446L1003,446L1003,445.4L1003.5,445.4L1003.5,445.1L1004,445.1L1004,445.2L1004.5,445.2L1004.5,445.7L1005,445.7L1005,445.2L1005.5,445.2L1005.5,445.2L1006,445.2L1006,445.6L1006.5,445.6L1006.5,445.4L1007,445.4L1007,445.1L1007.5,445.1L1007.5,445.3L1008,445.3L1008,445.7L1008.5,445.7L1008.5,445.5L1009,445.5L1009,445.5L1009.5,445.5L1009.5,446L1010,446L1010,445.5L1010.5,445.5L1010.5,445.6L1011,445.6L1011,446L1011.5,446L1011.5,446L1012,446L1012,444.8L1012.5,444.8L1012.5,445.5L1013,445.5L1013,445L1013.5,445L1013.5,445.7L1014,445.7L1014,445L1014.5,445L1014.5,445.4L1015,445.4L1015,445.9L1015.5,445.9L1015.5,445.5L1016,445.5L1016,445L1016.5,445L1016.5,444.7L1017,444.7L1017,445.4L1017.5,445.4L1017.5,445.8L1018,445.8L1018,445.9L1018.5,445.9L1018.5,445.3L1019,445.3L1019,445.2L1019.5,445.2L1019.5,445.6L1020,445.6L1020,445.7L1020.5,445.7L1020.5,445.3L1021,445.3L1021,445.4L1021.5,445.4L1021.5,445.5L1022,445.5L1022,446L1022.5,446L1022.5,445.7L1023,445.7L1023,444.9L1023.5,444.9L1023.5,445.6L1024,445.6L1024,444.8L1024.5,444.8L1024.5,445.5L1025,445.5L1025,445.7L1025.5,445.7L1025.5,445.5L1026,445.5L1026,445.4L1026.5,445.4L1026.5,445.9L1027,445.9L1027,445.6L1027.5,445.6L1027.5,445.8L1028,445.8L1028,445.1L1028.5,445.1L1028.5,445.8L1029,445.8L1029,445.6L1029.5,445.6L1029.5,446L1030,446L1030,446L1030.5,446L1030.5,445.7L1031,445.7L1031,446L1031.5,446L1031.5,445.8L1032,445.8L1032,445.6L1032.5,445.6L1032.5,445.5L1033,445.5L1033,446L1033.5,446L1033.5,445.7L1034,445.7L1034,445.5L1034.5,445.5L1034.5,445.9L1035,445.9L1035,446L1035.5,446L1035.5,445.9L1036,445.9L1036,445.1L1036.5,445.1L1036.5,445.7L1037,445.7L1037,445.2L1037.5,445.2L1037.5,445.8L1038,445.8L1038,445.3L1038.5,445.3L1038.5,446L1039,446L1039,445.8L1039.5,445.8L1039.5,445.7L1040,445.7L1040,445.1L1040.5,445.1L1040.5,445.5L1041,445.5L1041,445.3L1041.5,445.3L1041.5,445.8L1042,445.8L1042,445.8L1042.5,445.8L1042.5,445.3L1043,445.3L1043,445.3L1043.5,445.3L1043.5,445.3L1044,445.3L1044,445.3L1044.5,445.3L1044.5,445.9L1045,445.9L1045,445L1045.5,445L1045.5,445.7L1046,445.7L1046,445.3L1046.5,445.3L1046.5,445.5L1047,445.5L1047,446L1047.5,446L1047.5,446L1048,446L1048,446L1048.5,446L1048.5,445.8L1049,445.8L1049,445.4L1049.5,445.4L1049.5,445.8L1050,445.8L1050,445.5L1050.5,445.5L1050.5,446L1051,446L1051,445.9L1051.5,445.9L1051.5,446L1052,446L1052,445.7L1052.5,445.7L1052.5,446L1053,446L1053,445.8L1053.5,445.8L1053.5,445.6L1054,445.6L1054,445.9L1054.5,445.9L1054.5,446L1055,446L1055,445.9L1055.5,445.9L1055.5,446L1056,446L1056,446L1056.5,446L1056.5,445.5L1057,445.5L1057,445.7L1057.5,445.7L1057.5,446L1058,446L1058,445.9L1058.5,445.9L1058.5,445.7L1059,445.7L1059,445.6L1059.5,445.6L1059.5,445.6L1060,445.6L1060,445.5L1060.5,445.5L1060.5,445.8L1061,445.8L1061,445.8L1061.5,445.8L1061.5,445.9L1062,445.9L1062,445.5L1062.5,445.5L1062.5,445.6L1063,445.6L1063,445.3L1063.5,445.3L1063.5,445.5L1064,445.5L1064,446L1064.5,446L1064.5,446L1065,446L1065,446L1065.5,446L1065.5,446L1066,446L1066,445.6L1066.5,445.6L1066.5,446L1067,446L1067,446L1067.5,446L1067.5,445.9L1068,445.9L1068,445.6L1068.5,445.6L1068.5,445.6L1069,445.6L1069,445.4L1069.5,445.4L1069.5,445.8L1070,445.8L1070,446L1070.5,446L1070.5,445.9L1071,445.9L1071,446L1071.5,446L1071.5,446L1072,446L1072,445.5L1072.5,445.5L1072.5,445.3L1073,445.3L1073,445.5L1073.5,445.5L1073.5,445.8L1074,445.8L1074,445.9L1074.5,445.9L1074.5,445.8L1075,445.8L1075,446L1075.5,446L1075.5,445.7L1076,445.7L1076,445.7L1076.5,445.7L1076.5,445.9L1077,445.9L1077,445.8L1077.5,445.8L1077.5,446L1078,446L1078,445.7L1078.5,445.7L1078.5,445.7L1079,445.7L1079,446L1079.5,446L1079.5,446L1080,446L1080,445.8L1080.5,445.8L1080.5,445.5L1081,445.5L1081,446L1081.5,446L1081.5,445.9L1082,445.9L1082,445.5L1082.5,445.5L1082.5,445.8L1083,445.8L1083,445.9L1083.5,445.9L1083.5,446L1084,446L1084,445.9L1084.5,445.9L1084.5,446L1085,446L1085,445.6L1085.5,445.6L1085.5,446L1086,446L1086,445.7L1086.5,445.7L1086.5,445.7L1087,445.7L1087,445.6L1087.5,445.6L1087.5,445.8L1088,445.8L1088,445.9L1088.5,445.9L1088.5,445.8L1089,445.8L1089,445.8L1089.5,445.8L1089.5,445.6L1090,445.6L1090,445.9L1090.5,445.9L1090.5,445.4L1091,445.4L1091,445.3L1091.5,445.3L1091.5,446L1092,446L1092,445.8L1092.5,445.8L1092.5,446L1093,446L1093,445.7L1093.5,445.7L1093.5,445.8L1094,445.8L1094,445.9L1094.5,445.9L1094.5,446L1095,446L1095,445.9L1095.5,445.9L1095.5,445.5L1096,445.5L1096,445.5L1096.5,445.5L1096.5,445.8L1097,445.8L1097,446L1097.5,446L1097.5,445.9L1098,445.9L1098,446L1098.5,446L1098.5,446L1099,446L1099,446L1099.5,446L1099.5,445.8L1100,445.8L1100,445.8L1100.5,445.8L1100.5,445.8L1101,445.8L1101,446L1101.5,446L1101.5,446L1102,446L1102,445.7L1102.5,445.7L1102.5,446L1103,446L1103,445.7L1103.5,445.7L1103.5,446L1104,446L1104,445.7L1104.5,445.7L1104.5,445.8L1105,445.8L1105,446L1105.5,446L1105.5,446L1106,446L1106,445.5L1106.5,445.5L1106.5,445.7L1107,445.7L1107,445.9L1107.5,445.9L1107.5,445.9L1108,445.9L1108,446L1108.5,446L1108.5,445.6L1109,445.6L1109,445.6L1109.5,445.6L1109.5,446L1110,446L1110,445.8L1110.5,445.8L1110.5,446L1111,446L1111,445.7L1111.5,445.7L1111.5,445.8L1112,445.8L1112,445.9L1112.5,445.9L1112.5,445.8L1113,445.8L1113,445.9L1113.5,445.9L1113.5,446L1114,446L1114,446L1114.5,446L1114.5,445.9L1115,445.9L1115,445.8L1115.5,445.8L1115.5,445.9L1116,445.9L1116,446L1116.5,446L1116.5,445.9L1117,445.9L1117,446L1117.5,446L1117.5,445.6L1118,445.6L1118,445.9L1118.5,445.9L1118.5,446L1119,446L1119,445.9L1119.5,445.9L1119.5,445.7L1120,445.7L1120,445.8L1120.5,445.8L1120.5,445.6L1121,445.6L1121,446L1121.5,446L1121.5,445.7L1122,445.7L1122,445.9L1122.5,445.9L1122.5,445.8L1123,445.8L1123,445.6L1123.5,445.6L1123.5,446L1124,446L1124,446L1124.5,446L1124.5,446L1125,446L1125,446L1125.5,446L1125.5,446L1126,446L1126,445.9L1126.5,445.9L1126.5,445.7L1127,445.7L1127,446L1127.5,446L1127.5,445.9L1128,445.9L1128,445.4L1128.5,445.4L1128.5,445.9L1129,445.9L1129,446L1129.5,446L1129.5,446L1130,446L1130,445.9L1130.5,445.9L1130.5,446L1131,446L1131,445.8L1131.5,445.8L1131.5,445.9L1132,445.9L1132,445.8L1132.5,445.8L1132.5,445.9L1133,445.9L1133,445.9L1133.5,445.9L1133.5,446L1134,446L1134,446L1134.5,446L1134.5,446L1135,446L1135,446L1135.5,446L1135.5,445.9L1136,445.9L1136,446L1136.5,446L1136.5,446L1137,446L1137,445.6L1137.5,445.6L1137.5,445.9L1138,445.9L1138,445.8L1138.5,445.8L1138.5,446L1139,446L1139,445.8L1139.5,445.8L1139.5,445.8L1140,445.8L1140,445.9L1140.5,445.9L1140.5,446L1141,446L1141,445.8L1141.5,445.8L1141.5,446L1142,446L1142,446L1142.5,446L1142.5,446L1143,446L1143,445.9L1143.5,445.9L1143.5,446L1144,446L1144,446Z" fill="#6868ff" stroke="#b4b4b4" stroke-width="0.7"/>
<line x1="580.5" y1="446" x2="1144.4" y2="446" stroke="#8c8cd2" stroke-width="1.25"/>
<line x1="840.3" y1="65.2" x2="840.3" y2="464.8" stroke="#b02040" stroke-width="1.8" stroke-opacity="0.45"/>
<line x1="815.1" y1="173.4" x2="815.1" y2="446" stroke="#000" stroke-width="1.9"/>
<line x1="864.5" y1="173.4" x2="864.5" y2="446" stroke="#000" stroke-width="1.9"/>
<line x1="778.3" y1="354.4" x2="778.3" y2="446" stroke="#000" stroke-width="1.9"/>
<line x1="901.3" y1="354.4" x2="901.3" y2="446" stroke="#000" stroke-width="1.9"/>
<line x1="694" y1="390.9" x2="694" y2="446" stroke="#000" stroke-width="1.9"/>
<line x1="976.4" y1="390.9" x2="976.4" y2="446" stroke="#000" stroke-width="1.9"/>
<line x1="616.5" y1="112.1" x2="636.5" y2="112.1" stroke="#d2d2d2" stroke-width="1.4"/>
<text x="645.5" y="115" font-size="9.6" fill="#262626" stroke="#262626" stroke-width="0.15" textLength="98.2" lengthAdjust="spacingAndGlyphs">[-0.54,0.52] @ 0.6827</text>
<line x1="616.5" y1="130.4" x2="636.5" y2="130.4" stroke="#d2d2d2" stroke-width="1.4"/>
<text x="645.5" y="133.3" font-size="9.6" fill="#262626" stroke="#262626" stroke-width="0.15" textLength="84.6" lengthAdjust="spacingAndGlyphs">[-1.33,1.31] @ 0.95</text>
<line x1="616.5" y1="148.7" x2="636.5" y2="148.7" stroke="#d2d2d2" stroke-width="1.4"/>
<text x="645.5" y="151.6" font-size="9.6" fill="#262626" stroke="#262626" stroke-width="0.15" textLength="95.6" lengthAdjust="spacingAndGlyphs">[-3.14,2.92] @ 0.9973</text>
<rect x="580.5" y="65.2" width="563.9" height="399.6" fill="none" stroke="#2e2e2e" stroke-width="1.3"/>
<line x1="653.9" y1="460.2" x2="653.9" y2="464.8" stroke="#e6e6e6" stroke-width="1"/>
<text x="653.9" y="478.8" font-size="12.2" fill="#111" stroke="#111" stroke-width="0.22" text-anchor="middle" textLength="12.5" lengthAdjust="spacingAndGlyphs">-4</text>
<line x1="747.1" y1="460.2" x2="747.1" y2="464.8" stroke="#e6e6e6" stroke-width="1"/>
<text x="747.1" y="478.8" font-size="12.2" fill="#111" stroke="#111" stroke-width="0.22" text-anchor="middle" textLength="12.5" lengthAdjust="spacingAndGlyphs">-2</text>
<line x1="840.3" y1="460.2" x2="840.3" y2="464.8" stroke="#555" stroke-width="1"/>
<text x="840.3" y="478.8" font-size="12.2" fill="#111" stroke="#111" stroke-width="0.22" text-anchor="middle" textLength="7" lengthAdjust="spacingAndGlyphs">0</text>
<line x1="933.5" y1="460.2" x2="933.5" y2="464.8" stroke="#e6e6e6" stroke-width="1"/>
<text x="933.5" y="478.8" font-size="12.2" fill="#111" stroke="#111" stroke-width="0.22" text-anchor="middle" textLength="7" lengthAdjust="spacingAndGlyphs">2</text>
<line x1="1026.7" y1="460.2" x2="1026.7" y2="464.8" stroke="#e6e6e6" stroke-width="1"/>
<text x="1026.7" y="478.8" font-size="12.2" fill="#111" stroke="#111" stroke-width="0.22" text-anchor="middle" textLength="7" lengthAdjust="spacingAndGlyphs">4</text>
<line x1="1119.9" y1="460.2" x2="1119.9" y2="464.8" stroke="#e6e6e6" stroke-width="1"/>
<text x="1119.9" y="478.8" font-size="12.2" fill="#111" stroke="#111" stroke-width="0.22" text-anchor="middle" textLength="7" lengthAdjust="spacingAndGlyphs">6</text>
<text x="815.1" y="500" font-size="12" fill="#1a1a1a" stroke="#1a1a1a" stroke-width="0.22" textLength="89.5" lengthAdjust="spacingAndGlyphs">Reading blocks</text>
<text x="378.5" y="529" font-size="11.6" fill="#1a1a1a" stroke="#1a1a1a" stroke-width="0.22" textLength="449.5" lengthAdjust="spacingAndGlyphs">Noise Induced Events (brightness drops) found in correlated noise for event duration: 18</text>
<line x1="94.5" y1="920.5" x2="1113.7" y2="920.5" stroke="#b4b4b4" stroke-width="2"/>
<path d="M235.6,920.5L235.6,920.4L240.4,920.4L240.4,920.4L245.2,920.4L245.2,920L250,920L250,919.5L254.8,919.5L254.8,918.8L259.6,918.8L259.6,918.3L264.3,918.3L264.3,917.4L269.1,917.4L269.1,915.8L273.9,915.8L273.9,912.5L278.7,912.5L278.7,908.5L283.5,908.5L283.5,904.9L288.3,904.9L288.3,900.5L293,900.5L293,892.7L297.8,892.7L297.8,879.9L302.6,879.9L302.6,870.1L307.4,870.1L307.4,859.7L312.2,859.7L312.2,840.9L317,840.9L317,825.4L321.8,825.4L321.8,804.9L326.5,804.9L326.5,783.9L331.3,783.9L331.3,763.3L336.1,763.3L336.1,738.3L340.9,738.3L340.9,719.6L345.7,719.6L345.7,702.2L350.5,702.2L350.5,681.8L355.3,681.8L355.3,666L360,666L360,663.4L364.8,663.4L364.8,650.5L369.6,650.5L369.6,648.7L374.4,648.7L374.4,644.7L379.2,644.7L379.2,652.6L384,652.6L384,656.5L388.7,656.5L388.7,669L393.5,669L393.5,684.8L398.3,684.8L398.3,704L403.1,704L403.1,719.5L407.9,719.5L407.9,739.7L412.7,739.7L412.7,758.3L417.5,758.3L417.5,771.5L422.2,771.5L422.2,791.7L427,791.7L427,802L431.8,802L431.8,818L436.6,818L436.6,837.3L441.4,837.3L441.4,845L446.2,845L446.2,858.6L451,858.6L451,866.6L455.7,866.6L455.7,875.4L460.5,875.4L460.5,885.9L465.3,885.9L465.3,890.2L470.1,890.2L470.1,896L474.9,896L474.9,899.6L479.7,899.6L479.7,905.7L484.4,905.7L484.4,907.5L489.2,907.5L489.2,911.7L494,911.7L494,913.4L498.8,913.4L498.8,915.5L503.6,915.5L503.6,915.8L508.4,915.8L508.4,917.3L513.2,917.3L513.2,917.5L517.9,917.5L517.9,918.8L522.7,918.8L522.7,919.2L527.5,919.2L527.5,919.6L532.3,919.6L532.3,920.1L537.1,920.1L537.1,920.2L541.9,920.2L541.9,920L546.7,920L546.7,920.4L551.4,920.4L551.4,920.4L556.2,920.4L556.2,920.4L561,920.4L561,920.4L565.8,920.4L565.8,920.5L570.6,920.5L570.6,920.5L575.4,920.5L575.4,920.5L580.1,920.5L580.1,920.5L584.9,920.5L584.9,920.5L589.7,920.5L589.7,920.4L594.5,920.4L594.5,920.5L599.3,920.5L599.3,920.5" fill="none" stroke="#2020e0" stroke-width="0.9"/>
<polyline points="245.2,920.1 246.2,920 247.1,920 248.1,919.9 249,919.9 250,919.8 250.9,919.7 251.9,919.7 252.9,919.6 253.8,919.5 254.8,919.4 255.7,919.3 256.7,919.2 257.6,919 258.6,918.9 259.6,918.7 260.5,918.6 261.5,918.4 262.4,918.2 263.4,918 264.3,917.8 265.3,917.5 266.3,917.3 267.2,917 268.2,916.7 269.1,916.4 270.1,916 271,915.6 272,915.2 273,914.8 273.9,914.3 274.9,913.8 275.8,913.3 276.8,912.7 277.7,912.1 278.7,911.5 279.6,910.8 280.6,910.1 281.6,909.3 282.5,908.5 283.5,907.6 284.4,906.7 285.4,905.7 286.3,904.6 287.3,903.5 288.3,902.4 289.2,901.2 290.2,899.9 291.1,898.5 292.1,897.1 293,895.6 294,894.1 295,892.5 295.9,890.7 296.9,889 297.8,887.1 298.8,885.1 299.7,883.1 300.7,881 301.7,878.8 302.6,876.5 303.6,874.2 304.5,871.7 305.5,869.2 306.4,866.6 307.4,863.8 308.4,861.1 309.3,858.2 310.3,855.2 311.2,852.1 312.2,849 313.1,845.8 314.1,842.5 315.1,839.1 316,835.6 317,832.1 317.9,828.5 318.9,824.8 319.8,821 320.8,817.2 321.8,813.3 322.7,809.4 323.7,805.4 324.6,801.4 325.6,797.3 326.5,793.1 327.5,789 328.5,784.8 329.4,780.5 330.4,776.3 331.3,772 332.3,767.7 333.2,763.4 334.2,759.2 335.2,754.9 336.1,750.6 337.1,746.3 338,742.1 339,737.9 339.9,733.7 340.9,729.6 341.9,725.5 342.8,721.4 343.8,717.4 344.7,713.5 345.7,709.6 346.6,705.8 347.6,702.1 348.6,698.5 349.5,694.9 350.5,691.5 351.4,688.1 352.4,684.8 353.3,681.7 354.3,678.6 355.3,675.7 356.2,672.9 357.2,670.2 358.1,667.6 359.1,665.1 360,662.8 361,660.6 362,658.5 362.9,656.6 363.9,654.8 364.8,653.1 365.8,651.6 366.7,650.2 367.7,649 368.7,647.9 369.6,646.9 370.6,646.1 371.5,645.4 372.5,644.9 373.4,644.4 374.4,644.2 375.3,644 376.3,644 377.3,644.2 378.2,644.7 379.2,645.4 380.1,646.2 381.1,647.3 382,648.6 383,650.1 384,651.7 384.9,653.5 385.9,655.5 386.8,657.6 387.8,659.9 388.7,662.3 389.7,664.8 390.7,667.5 391.6,670.2 392.6,673.1 393.5,676.1 394.5,679.1 395.4,682.2 396.4,685.4 397.4,688.7 398.3,692 399.3,695.4 400.2,698.8 401.2,702.3 402.1,705.8 403.1,709.3 404.1,712.9 405,716.5 406,720.1 406.9,723.7 407.9,727.3 408.8,731 409.8,734.6 410.8,738.2 411.7,741.9 412.7,745.5 413.6,749.1 414.6,752.7 415.5,756.3 416.5,759.8 417.5,763.4 418.4,766.9 419.4,770.3 420.3,773.8 421.3,777.2 422.2,780.6 423.2,784 424.2,787.3 425.1,790.5 426.1,793.8 427,797 428,800.1 428.9,803.2 429.9,806.3 430.9,809.3 431.8,812.3 432.8,815.2 433.7,818.1 434.7,821 435.6,823.8 436.6,826.5 437.6,829.2 438.5,831.9 439.5,834.4 440.4,837 441.4,839.5 442.3,842 443.3,844.4 444.3,846.7 445.2,849 446.2,851.3 447.1,853.5 448.1,855.6 449,857.8 450,859.8 451,861.8 451.9,863.8 452.9,865.7 453.8,867.6 454.8,869.4 455.7,871.2 456.7,873 457.7,874.7 458.6,876.3 459.6,877.9 460.5,879.5 461.5,881 462.4,882.5 463.4,883.9 464.4,885.3 465.3,886.7 466.3,888 467.2,889.3 468.2,890.5 469.1,891.7 470.1,892.9 471,894 472,895.1 473,896.2 473.9,897.2 474.9,898.2 475.8,899.2 476.8,900.1 477.7,901 478.7,901.9 479.7,902.7 480.6,903.5 481.6,904.3 482.5,905.1 483.5,905.8 484.4,906.5 485.4,907.2 486.4,907.8 487.3,908.4 488.3,909 489.2,909.6 490.2,910.2 491.1,910.7 492.1,911.2 493.1,911.7 494,912.1 495,912.6 495.9,913 496.9,913.4 497.8,913.8 498.8,914.2 499.8,914.5 500.7,914.9 501.7,915.2 502.6,915.5 503.6,915.8 504.5,916.1 505.5,916.4 506.5,916.6 507.4,916.8 508.4,917.1 509.3,917.3 510.3,917.5 511.2,917.7 512.2,917.8 513.2,918 514.1,918.2 515.1,918.3 516,918.5 517,918.6 517.9,918.7 518.9,918.8 519.9,918.9 520.8,919.1 521.8,919.1 522.7,919.2 523.7,919.3 524.6,919.4 525.6,919.5 526.6,919.6 527.5,919.6 528.5,919.7 529.4,919.7 530.4,919.8 531.3,919.8 532.3,919.9 533.3,919.9 534.2,920 535.2,920 536.1,920 537.1,920.1 538,920.1 539,920.1 540,920.2 540.9,920.2 541.9,920.2 542.8,920.2 543.8,920.3 544.7,920.3 545.7,920.3 546.7,920.3 547.6,920.3 548.6,920.3 549.5,920.4 550.5,920.4 551.4,920.4 552.4,920.4 553.4,920.4" fill="none" stroke="#0606d6" stroke-width="2.4" stroke-linejoin="round"/>
<line x1="549" y1="920.2" x2="599.3" y2="920.2" stroke="#8a8ad8" stroke-width="2"/>
<line x1="235.6" y1="920.3" x2="247.6" y2="920.3" stroke="#7070d0" stroke-width="1.8"/>
<polyline points="745.2,920.5 746.4,920.5 747.6,920.5 748.8,920.5 750,920.5 751.2,920.5 752.4,920.5 753.6,920.5 754.8,920.5 756,920.5 757.2,920.5 758.4,920.5 759.6,920.5 760.8,920.5 762,920.5 763.2,920.5 764.4,920.5 765.6,920.5 766.8,920.5 768,920.5 769.2,920.5 770.4,920.5 771.5,920.4 772.7,920.4 773.9,920.4 775.1,920.4 776.3,920.4 777.5,920.4 778.7,920.4 779.9,920.4 781.1,920.3 782.3,920.3 783.5,920.3 784.7,920.3 785.9,920.2 787.1,920.2 788.3,920.2 789.5,920.1 790.7,920.1 791.9,920 793.1,920 794.3,919.9 795.5,919.9 796.7,919.8 797.9,919.7 799.1,919.6 800.3,919.5 801.5,919.4 802.7,919.3 803.8,919.1 805,919 806.2,918.8 807.4,918.6 808.6,918.4 809.8,918.2 811,918 812.2,917.7 813.4,917.4 814.6,917.1 815.8,916.8 817,916.4 818.2,916 819.4,915.6 820.6,915.1 821.8,914.6 823,914.1 824.2,913.5 825.4,912.8 826.6,912.2 827.8,911.4 829,910.6 830.2,909.8 831.4,908.9 832.6,907.9 833.8,906.8 834.9,905.7 836.1,904.5 837.3,903.2 838.5,901.9 839.7,900.4 840.9,898.9 842.1,897.3 843.3,895.6 844.5,893.7 845.7,891.8 846.9,889.8 848.1,887.6 849.3,885.3 850.5,883 851.7,880.4 852.9,877.8 854.1,875.1 855.3,872.2 856.5,869.2 857.7,866 858.9,862.7 860.1,859.3 861.3,855.8 862.5,852.1 863.7,848.3 864.9,844.3 866.1,840.2 867.2,836 868.4,831.6 869.6,827.1 870.8,822.5 872,817.8 873.2,812.9 874.4,807.9 875.6,802.8 876.8,797.6 878,792.3 879.2,786.9 880.4,781.5 881.6,775.9 882.8,770.3 884,764.6 885.2,758.9 886.4,753.1 887.6,747.3 888.8,741.5 890,735.7 891.2,729.8 892.4,724 893.6,718.3 894.8,712.5 896,706.8 897.2,701.2 898.4,695.7 899.5,690.3 900.7,684.9 901.9,679.7 903.1,674.7 904.3,669.7 905.5,665 906.7,660.4 907.9,656 909.1,651.8 910.3,647.8 911.5,644 912.7,640.5 913.9,637.2 915.1,634.1 916.3,631.4 917.5,628.9 918.7,626.6 919.9,624.7 921.1,623 922.3,621.7 923.5,620.6 924.7,619.8 925.9,619.4 927.1,619.2 928.3,619.4 929.5,619.8 930.6,620.6 931.8,621.7 933,623 934.2,624.7 935.4,626.6 936.6,628.9 937.8,631.4 939,634.1 940.2,637.2 941.4,640.5 942.6,644 943.8,647.8 945,651.8 946.2,656 947.4,660.4 948.6,665 949.8,669.7 951,674.7 952.2,679.7 953.4,684.9 954.6,690.3 955.8,695.7 957,701.2 958.2,706.8 959.4,712.5 960.6,718.3 961.8,724 962.9,729.8 964.1,735.7 965.3,741.5 966.5,747.3 967.7,753.1 968.9,758.9 970.1,764.6 971.3,770.3 972.5,775.9 973.7,781.5 974.9,786.9 976.1,792.3 977.3,797.6 978.5,802.8 979.7,807.9 980.9,812.9 982.1,817.8 983.3,822.5 984.5,827.1 985.7,831.6 986.9,836 988.1,840.2 989.3,844.3 990.5,848.3 991.7,852.1 992.9,855.8 994.1,859.3 995.2,862.7 996.4,866 997.6,869.2 998.8,872.2 1000,875.1 1001.2,877.8 1002.4,880.4 1003.6,883 1004.8,885.3 1006,887.6 1007.2,889.8 1008.4,891.8 1009.6,893.7 1010.8,895.6 1012,897.3 1013.2,898.9 1014.4,900.4 1015.6,901.9 1016.8,903.2 1018,904.5 1019.2,905.7 1020.4,906.8 1021.6,907.9 1022.8,908.9 1024,909.8 1025.2,910.6 1026.3,911.4 1027.5,912.2 1028.7,912.8 1029.9,913.5 1031.1,914.1 1032.3,914.6 1033.5,915.1 1034.7,915.6 1035.9,916 1037.1,916.4 1038.3,916.8 1039.5,917.1 1040.7,917.4 1041.9,917.7 1043.1,918 1044.3,918.2 1045.5,918.4 1046.7,918.6 1047.9,918.8 1049.1,919 1050.3,919.1 1051.5,919.3 1052.7,919.4 1053.9,919.5 1055.1,919.6 1056.3,919.7 1057.5,919.8 1058.6,919.9 1059.8,919.9 1061,920 1062.2,920 1063.4,920.1 1064.6,920.1 1065.8,920.2 1067,920.2 1068.2,920.2 1069.4,920.3 1070.6,920.3 1071.8,920.3 1073,920.3 1074.2,920.4 1075.4,920.4 1076.6,920.4 1077.8,920.4 1079,920.4 1080.2,920.4 1081.4,920.4 1082.6,920.4 1083.8,920.5 1085,920.5 1086.2,920.5 1087.4,920.5 1088.6,920.5 1089.8,920.5 1090.9,920.5 1092.1,920.5 1093.3,920.5 1094.5,920.5 1095.7,920.5 1096.9,920.5 1098.1,920.5 1099.3,920.5 1100.5,920.5 1101.7,920.5 1102.9,920.5 1104.1,920.5 1105.3,920.5 1106.5,920.5 1107.7,920.5 1108.9,920.5 1110.1,920.5 1111.3,920.5 1112.5,920.5" fill="none" stroke="#66e066" stroke-width="3.2" stroke-linejoin="round" stroke-opacity="0.6"/>
<polyline points="745.2,920.5 746.4,920.5 747.6,920.5 748.8,920.5 750,920.5 751.2,920.5 752.4,920.5 753.6,920.5 754.8,920.5 756,920.5 757.2,920.5 758.4,920.5 759.6,920.5 760.8,920.5 762,920.5 763.2,920.5 764.4,920.5 765.6,920.5 766.8,920.5 768,920.5 769.2,920.5 770.4,920.5 771.5,920.4 772.7,920.4 773.9,920.4 775.1,920.4 776.3,920.4 777.5,920.4 778.7,920.4 779.9,920.4 781.1,920.3 782.3,920.3 783.5,920.3 784.7,920.3 785.9,920.2 787.1,920.2 788.3,920.2 789.5,920.1 790.7,920.1 791.9,920 793.1,920 794.3,919.9 795.5,919.9 796.7,919.8 797.9,919.7 799.1,919.6 800.3,919.5 801.5,919.4 802.7,919.3 803.8,919.1 805,919 806.2,918.8 807.4,918.6 808.6,918.4 809.8,918.2 811,918 812.2,917.7 813.4,917.4 814.6,917.1 815.8,916.8 817,916.4 818.2,916 819.4,915.6 820.6,915.1 821.8,914.6 823,914.1 824.2,913.5 825.4,912.8 826.6,912.2 827.8,911.4 829,910.6 830.2,909.8 831.4,908.9 832.6,907.9 833.8,906.8 834.9,905.7 836.1,904.5 837.3,903.2 838.5,901.9 839.7,900.4 840.9,898.9 842.1,897.3 843.3,895.6 844.5,893.7 845.7,891.8 846.9,889.8 848.1,887.6 849.3,885.3 850.5,883 851.7,880.4 852.9,877.8 854.1,875.1 855.3,872.2 856.5,869.2 857.7,866 858.9,862.7 860.1,859.3 861.3,855.8 862.5,852.1 863.7,848.3 864.9,844.3 866.1,840.2 867.2,836 868.4,831.6 869.6,827.1 870.8,822.5 872,817.8 873.2,812.9 874.4,807.9 875.6,802.8 876.8,797.6 878,792.3 879.2,786.9 880.4,781.5 881.6,775.9 882.8,770.3 884,764.6 885.2,758.9 886.4,753.1 887.6,747.3 888.8,741.5 890,735.7 891.2,729.8 892.4,724 893.6,718.3 894.8,712.5 896,706.8 897.2,701.2 898.4,695.7 899.5,690.3 900.7,684.9 901.9,679.7 903.1,674.7 904.3,669.7 905.5,665 906.7,660.4 907.9,656 909.1,651.8 910.3,647.8 911.5,644 912.7,640.5 913.9,637.2 915.1,634.1 916.3,631.4 917.5,628.9 918.7,626.6 919.9,624.7 921.1,623 922.3,621.7 923.5,620.6 924.7,619.8 925.9,619.4 927.1,619.2 928.3,619.4 929.5,619.8 930.6,620.6 931.8,621.7 933,623 934.2,624.7 935.4,626.6 936.6,628.9 937.8,631.4 939,634.1 940.2,637.2 941.4,640.5 942.6,644 943.8,647.8 945,651.8 946.2,656 947.4,660.4 948.6,665 949.8,669.7 951,674.7 952.2,679.7 953.4,684.9 954.6,690.3 955.8,695.7 957,701.2 958.2,706.8 959.4,712.5 960.6,718.3 961.8,724 962.9,729.8 964.1,735.7 965.3,741.5 966.5,747.3 967.7,753.1 968.9,758.9 970.1,764.6 971.3,770.3 972.5,775.9 973.7,781.5 974.9,786.9 976.1,792.3 977.3,797.6 978.5,802.8 979.7,807.9 980.9,812.9 982.1,817.8 983.3,822.5 984.5,827.1 985.7,831.6 986.9,836 988.1,840.2 989.3,844.3 990.5,848.3 991.7,852.1 992.9,855.8 994.1,859.3 995.2,862.7 996.4,866 997.6,869.2 998.8,872.2 1000,875.1 1001.2,877.8 1002.4,880.4 1003.6,883 1004.8,885.3 1006,887.6 1007.2,889.8 1008.4,891.8 1009.6,893.7 1010.8,895.6 1012,897.3 1013.2,898.9 1014.4,900.4 1015.6,901.9 1016.8,903.2 1018,904.5 1019.2,905.7 1020.4,906.8 1021.6,907.9 1022.8,908.9 1024,909.8 1025.2,910.6 1026.3,911.4 1027.5,912.2 1028.7,912.8 1029.9,913.5 1031.1,914.1 1032.3,914.6 1033.5,915.1 1034.7,915.6 1035.9,916 1037.1,916.4 1038.3,916.8 1039.5,917.1 1040.7,917.4 1041.9,917.7 1043.1,918 1044.3,918.2 1045.5,918.4 1046.7,918.6 1047.9,918.8 1049.1,919 1050.3,919.1 1051.5,919.3 1052.7,919.4 1053.9,919.5 1055.1,919.6 1056.3,919.7 1057.5,919.8 1058.6,919.9 1059.8,919.9 1061,920 1062.2,920 1063.4,920.1 1064.6,920.1 1065.8,920.2 1067,920.2 1068.2,920.2 1069.4,920.3 1070.6,920.3 1071.8,920.3 1073,920.3 1074.2,920.4 1075.4,920.4 1076.6,920.4 1077.8,920.4 1079,920.4 1080.2,920.4 1081.4,920.4 1082.6,920.4 1083.8,920.5 1085,920.5 1086.2,920.5 1087.4,920.5 1088.6,920.5 1089.8,920.5 1090.9,920.5 1092.1,920.5 1093.3,920.5 1094.5,920.5 1095.7,920.5 1096.9,920.5 1098.1,920.5 1099.3,920.5 1100.5,920.5 1101.7,920.5 1102.9,920.5 1104.1,920.5 1105.3,920.5 1106.5,920.5 1107.7,920.5 1108.9,920.5 1110.1,920.5 1111.3,920.5 1112.5,920.5" fill="none" stroke="#10dd10" stroke-width="2.2" stroke-linejoin="round"/>
<line x1="745.2" y1="920.5" x2="1113.2" y2="920.5" stroke="#a8b4a8" stroke-width="1.2" stroke-opacity="0.8"/>
<line x1="375.9" y1="588.2" x2="375.9" y2="920.5" stroke="#1010d8" stroke-width="2.2"/>
<line x1="927.4" y1="558.5" x2="927.4" y2="920.5" stroke="#dd1010" stroke-width="2.2"/>
<line x1="99.7" y1="587.8" x2="119.8" y2="587.8" stroke="#d2d2d2" stroke-width="1.4"/>
<text x="128.6" y="590.7" font-size="9.8" fill="#262626" stroke="#262626" stroke-width="0.15" textLength="290.5" lengthAdjust="spacingAndGlyphs">vertical red line: the observed drop (B - A) extracted from lightcurve</text>
<line x1="99.7" y1="606.1" x2="119.8" y2="606.1" stroke="#d2d2d2" stroke-width="1.4"/>
<text x="128.6" y="609" font-size="9.8" fill="#262626" stroke="#262626" stroke-width="0.15" textLength="196.1" lengthAdjust="spacingAndGlyphs">vertical blue line: peak of noise induced drops</text>
<line x1="99.7" y1="624.4" x2="119.8" y2="624.4" stroke="#d2d2d2" stroke-width="1.4"/>
<text x="128.6" y="627.3" font-size="9.8" fill="#262626" stroke="#262626" stroke-width="0.15" textLength="169.2" lengthAdjust="spacingAndGlyphs">green curve: observed drop distribution</text>
<line x1="99.7" y1="642.7" x2="119.8" y2="642.7" stroke="#d2d2d2" stroke-width="1.4"/>
<text x="128.6" y="645.6" font-size="9.8" fill="#262626" stroke="#262626" stroke-width="0.15" textLength="201.1" lengthAdjust="spacingAndGlyphs">blue histogram: noise induced drop distribution</text>
<line x1="99.7" y1="661" x2="119.8" y2="661" stroke="#d2d2d2" stroke-width="1.4"/>
<text x="128.6" y="663.9" font-size="9.8" fill="#262626" stroke="#262626" stroke-width="0.15" textLength="255.1" lengthAdjust="spacingAndGlyphs">sigma distance between noisePeak and observed drop: 14.9</text>
<rect x="63.4" y="540.5" width="1081.2" height="399.5" fill="none" stroke="#2e2e2e" stroke-width="1.3"/>
<line x1="94.5" y1="935.4" x2="94.5" y2="940" stroke="#444" stroke-width="1"/>
<text x="94.5" y="954.5" font-size="12.2" fill="#111" stroke="#111" stroke-width="0.22" text-anchor="middle" textLength="7.5" lengthAdjust="spacingAndGlyphs">0</text>
<line x1="190.2" y1="935.4" x2="190.2" y2="940" stroke="#dadada" stroke-width="1"/>
<text x="190.2" y="954.5" font-size="12.2" fill="#111" stroke="#111" stroke-width="0.22" text-anchor="middle" textLength="15" lengthAdjust="spacingAndGlyphs">20</text>
<line x1="285.9" y1="935.4" x2="285.9" y2="940" stroke="#dadada" stroke-width="1"/>
<text x="285.9" y="954.5" font-size="12.2" fill="#111" stroke="#111" stroke-width="0.22" text-anchor="middle" textLength="15" lengthAdjust="spacingAndGlyphs">40</text>
<line x1="381.6" y1="935.4" x2="381.6" y2="940" stroke="#dadada" stroke-width="1"/>
<text x="381.6" y="954.5" font-size="12.2" fill="#111" stroke="#111" stroke-width="0.22" text-anchor="middle" textLength="15" lengthAdjust="spacingAndGlyphs">60</text>
<line x1="477.3" y1="935.4" x2="477.3" y2="940" stroke="#dadada" stroke-width="1"/>
<text x="477.3" y="954.5" font-size="12.2" fill="#111" stroke="#111" stroke-width="0.22" text-anchor="middle" textLength="15" lengthAdjust="spacingAndGlyphs">80</text>
<line x1="573" y1="935.4" x2="573" y2="940" stroke="#444" stroke-width="1"/>
<text x="573" y="954.5" font-size="12.2" fill="#111" stroke="#111" stroke-width="0.22" text-anchor="middle" textLength="22.5" lengthAdjust="spacingAndGlyphs">100</text>
<line x1="668.7" y1="935.4" x2="668.7" y2="940" stroke="#dadada" stroke-width="1"/>
<text x="668.7" y="954.5" font-size="12.2" fill="#111" stroke="#111" stroke-width="0.22" text-anchor="middle" textLength="22.5" lengthAdjust="spacingAndGlyphs">120</text>
<line x1="764.4" y1="935.4" x2="764.4" y2="940" stroke="#dadada" stroke-width="1"/>
<text x="764.4" y="954.5" font-size="12.2" fill="#111" stroke="#111" stroke-width="0.22" text-anchor="middle" textLength="22.5" lengthAdjust="spacingAndGlyphs">140</text>
<line x1="860.1" y1="935.4" x2="860.1" y2="940" stroke="#dadada" stroke-width="1"/>
<text x="860.1" y="954.5" font-size="12.2" fill="#111" stroke="#111" stroke-width="0.22" text-anchor="middle" textLength="22.5" lengthAdjust="spacingAndGlyphs">160</text>
<line x1="955.8" y1="935.4" x2="955.8" y2="940" stroke="#dadada" stroke-width="1"/>
<text x="955.8" y="954.5" font-size="12.2" fill="#111" stroke="#111" stroke-width="0.22" text-anchor="middle" textLength="22.5" lengthAdjust="spacingAndGlyphs">180</text>
<line x1="1051.5" y1="935.4" x2="1051.5" y2="940" stroke="#444" stroke-width="1"/>
<text x="1051.5" y="954.5" font-size="12.2" fill="#111" stroke="#111" stroke-width="0.22" text-anchor="middle" textLength="22.5" lengthAdjust="spacingAndGlyphs">200</text>
<line x1="63.4" y1="920.5" x2="68" y2="920.5" stroke="#444" stroke-width="1"/>
<text x="57.7" y="924.8" font-size="12.2" fill="#111" stroke="#111" stroke-width="0.22" text-anchor="end" textLength="7.7" lengthAdjust="spacingAndGlyphs">0</text>
<line x1="63.4" y1="883" x2="68" y2="883" stroke="#dadada" stroke-width="1"/>
<text x="57.7" y="887.3" font-size="12.2" fill="#111" stroke="#111" stroke-width="0.22" text-anchor="end" textLength="23" lengthAdjust="spacingAndGlyphs">200</text>
<line x1="63.4" y1="845.5" x2="68" y2="845.5" stroke="#dadada" stroke-width="1"/>
<text x="57.7" y="849.8" font-size="12.2" fill="#111" stroke="#111" stroke-width="0.22" text-anchor="end" textLength="23" lengthAdjust="spacingAndGlyphs">400</text>
<line x1="63.4" y1="807.9" x2="68" y2="807.9" stroke="#dadada" stroke-width="1"/>
<text x="57.7" y="812.2" font-size="12.2" fill="#111" stroke="#111" stroke-width="0.22" text-anchor="end" textLength="23" lengthAdjust="spacingAndGlyphs">600</text>
<line x1="63.4" y1="770.4" x2="68" y2="770.4" stroke="#dadada" stroke-width="1"/>
<text x="57.7" y="774.7" font-size="12.2" fill="#111" stroke="#111" stroke-width="0.22" text-anchor="end" textLength="23" lengthAdjust="spacingAndGlyphs">800</text>
<line x1="63.4" y1="732.9" x2="68" y2="732.9" stroke="#444" stroke-width="1"/>
<text x="57.7" y="737.2" font-size="12.2" fill="#111" stroke="#111" stroke-width="0.22" text-anchor="end" textLength="30.6" lengthAdjust="spacingAndGlyphs">1000</text>
<line x1="63.4" y1="695.4" x2="68" y2="695.4" stroke="#dadada" stroke-width="1"/>
<text x="57.7" y="699.7" font-size="12.2" fill="#111" stroke="#111" stroke-width="0.22" text-anchor="end" textLength="30.6" lengthAdjust="spacingAndGlyphs">1200</text>
<line x1="63.4" y1="657.9" x2="68" y2="657.9" stroke="#dadada" stroke-width="1"/>
<text x="57.7" y="662.2" font-size="12.2" fill="#111" stroke="#111" stroke-width="0.22" text-anchor="end" textLength="30.6" lengthAdjust="spacingAndGlyphs">1400</text>
<line x1="63.4" y1="620.3" x2="68" y2="620.3" stroke="#dadada" stroke-width="1"/>
<text x="57.7" y="624.6" font-size="12.2" fill="#111" stroke="#111" stroke-width="0.22" text-anchor="end" textLength="30.6" lengthAdjust="spacingAndGlyphs">1600</text>
<line x1="63.4" y1="582.8" x2="68" y2="582.8" stroke="#dadada" stroke-width="1"/>
<text x="57.7" y="587.1" font-size="12.2" fill="#111" stroke="#111" stroke-width="0.22" text-anchor="end" textLength="30.6" lengthAdjust="spacingAndGlyphs">1800</text>
<line x1="63.4" y1="545.3" x2="68" y2="545.3" stroke="#444" stroke-width="1"/>
<text x="57.7" y="549.6" font-size="12.2" fill="#111" stroke="#111" stroke-width="0.22" text-anchor="end" textLength="30.6" lengthAdjust="spacingAndGlyphs">2000</text>
<text x="555.2" y="975" font-size="12" fill="#1a1a1a" stroke="#1a1a1a" stroke-width="0.22" textLength="92.8" lengthAdjust="spacingAndGlyphs">brightness drop</text>
<text x="0" y="0" font-size="12.4" fill="#1a1a1a" stroke="#1a1a1a" stroke-width="0.22" text-anchor="middle" textLength="220" lengthAdjust="spacingAndGlyphs" transform="translate(19.2,741) rotate(-90)">number of times noise produced drop</text>
</svg>
</body></html>
